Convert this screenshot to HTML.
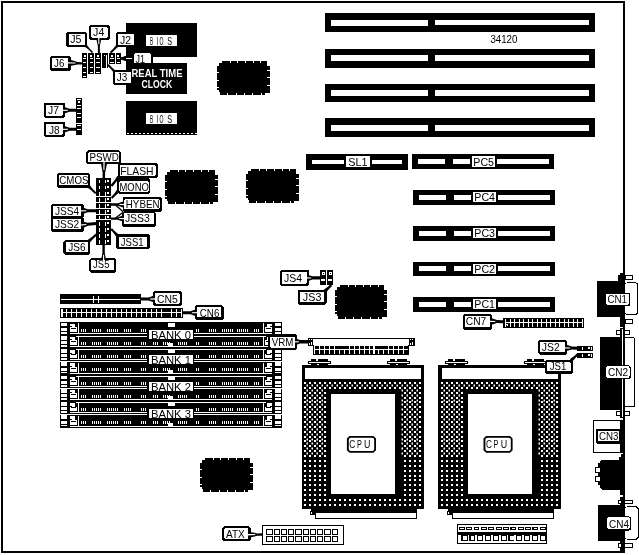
<!DOCTYPE html>
<html><head><meta charset="utf-8"><title>34120</title>
<style>
html,body{margin:0;padding:0;background:#fff;overflow:hidden}
svg{display:block;will-change:transform}
text{font-family:"Liberation Sans",sans-serif;}
</style></head><body>
<svg width="639" height="555" viewBox="0 0 639 555" shape-rendering="crispEdges">
<rect width="639" height="555" fill="#fff"/>
<rect x="1" y="1" width="624" height="552" fill="#000"/>
<rect x="3" y="3" width="620" height="548" fill="#fff"/>
<text x="490.4" y="42.9" font-size="10" textLength="27" lengthAdjust="spacingAndGlyphs">34120</text>
<rect x="325" y="13" width="270" height="19" fill="#000"/>
<rect x="331" y="20" width="96.5" height="6" fill="#fff"/>
<rect x="435" y="20" width="154" height="5" fill="#fff"/>
<rect x="325" y="49" width="270" height="19" fill="#000"/>
<rect x="331" y="55" width="96.5" height="6" fill="#fff"/>
<rect x="435" y="55" width="154" height="6" fill="#fff"/>
<rect x="325" y="83.5" width="270" height="18" fill="#000"/>
<rect x="331" y="90" width="96.5" height="6" fill="#fff"/>
<rect x="435" y="90" width="154" height="6" fill="#fff"/>
<rect x="325" y="118" width="270" height="19" fill="#000"/>
<rect x="331" y="124.5" width="96.5" height="6" fill="#fff"/>
<rect x="435" y="124.5" width="154" height="6" fill="#fff"/>
<rect x="126" y="23" width="71" height="34" fill="#000"/>
<rect x="126" y="57" width="8" height="6" fill="#000"/>
<rect x="146" y="34.5" width="31" height="11.5" fill="#fff"/>
<text x="150" y="44.9" font-size="11" fill="#000" textLength="3.2" lengthAdjust="spacingAndGlyphs">B</text>
<text x="156.6" y="44.9" font-size="11" fill="#000" textLength="1.6" lengthAdjust="spacingAndGlyphs">I</text>
<text x="159.6" y="44.9" font-size="11" fill="#000" textLength="4" lengthAdjust="spacingAndGlyphs">O</text>
<text x="167.2" y="44.9" font-size="11" fill="#000" textLength="4.8" lengthAdjust="spacingAndGlyphs">S</text>
<rect x="126" y="63" width="61" height="31" fill="#000"/>
<text x="131.5" y="77" font-size="10" font-weight="bold" fill="#fff" textLength="51" lengthAdjust="spacingAndGlyphs">REAL TIME</text>
<text x="141.5" y="88" font-size="10" font-weight="bold" fill="#fff" textLength="30.7" lengthAdjust="spacingAndGlyphs">CLOCK</text>
<rect x="126" y="101" width="71" height="34" fill="#000"/>
<rect x="146" y="112.5" width="31" height="11.5" fill="#fff"/>
<text x="150" y="122.9" font-size="11" fill="#000" textLength="3.2" lengthAdjust="spacingAndGlyphs">B</text>
<text x="156.6" y="122.9" font-size="11" fill="#000" textLength="1.6" lengthAdjust="spacingAndGlyphs">I</text>
<text x="159.6" y="122.9" font-size="11" fill="#000" textLength="4" lengthAdjust="spacingAndGlyphs">O</text>
<text x="167.2" y="122.9" font-size="11" fill="#000" textLength="4.8" lengthAdjust="spacingAndGlyphs">S</text>
<line x1="127" y1="133" x2="197" y2="133" stroke="#fff" stroke-width="1" stroke-dasharray="2 2"/>
<polygon points="222.00,61.00 267.00,61.00 267.00,66.00 270.00,66.00 270.00,93.00 265.00,93.00 265.00,95.00 220.00,95.00 220.00,92.00 219.00,92.00 219.00,90.00 217.00,90.00 217.00,66.00 219.00,66.00 219.00,63.00 222.00,63.00" fill="#000"/>
<rect x="229.679" y="61" width="1" height="2" fill="#fff"/>
<rect x="227.333" y="93" width="1" height="2" fill="#fff"/>
<rect x="237.357" y="61" width="1" height="2" fill="#fff"/>
<rect x="235.667" y="93" width="1" height="2" fill="#fff"/>
<rect x="245.036" y="61" width="1" height="2" fill="#fff"/>
<rect x="244" y="93" width="1" height="2" fill="#fff"/>
<rect x="252.714" y="61" width="1" height="2" fill="#fff"/>
<rect x="252.333" y="93" width="1" height="2" fill="#fff"/>
<rect x="260.393" y="61" width="1" height="2" fill="#fff"/>
<rect x="260.667" y="93" width="1" height="2" fill="#fff"/>
<rect x="217" y="71.7778" width="2" height="1" fill="#fff"/>
<rect x="267" y="69.6471" width="3" height="1" fill="#fff"/>
<rect x="217" y="79.5556" width="2" height="1" fill="#fff"/>
<rect x="267" y="77.2941" width="3" height="1" fill="#fff"/>
<rect x="217" y="87.3333" width="2" height="1" fill="#fff"/>
<rect x="267" y="84.9412" width="3" height="1" fill="#fff"/>
<polygon points="170.00,170.00 215.00,170.00 215.00,175.00 218.00,175.00 218.00,202.00 213.00,202.00 213.00,204.00 168.00,204.00 168.00,201.00 167.00,201.00 167.00,199.00 165.00,199.00 165.00,175.00 167.00,175.00 167.00,172.00 170.00,172.00" fill="#000"/>
<rect x="177.679" y="170" width="1" height="2" fill="#fff"/>
<rect x="175.333" y="202" width="1" height="2" fill="#fff"/>
<rect x="185.357" y="170" width="1" height="2" fill="#fff"/>
<rect x="183.667" y="202" width="1" height="2" fill="#fff"/>
<rect x="193.036" y="170" width="1" height="2" fill="#fff"/>
<rect x="192" y="202" width="1" height="2" fill="#fff"/>
<rect x="200.714" y="170" width="1" height="2" fill="#fff"/>
<rect x="200.333" y="202" width="1" height="2" fill="#fff"/>
<rect x="208.393" y="170" width="1" height="2" fill="#fff"/>
<rect x="208.667" y="202" width="1" height="2" fill="#fff"/>
<rect x="165" y="180.778" width="2" height="1" fill="#fff"/>
<rect x="215" y="178.647" width="3" height="1" fill="#fff"/>
<rect x="165" y="188.556" width="2" height="1" fill="#fff"/>
<rect x="215" y="186.294" width="3" height="1" fill="#fff"/>
<rect x="165" y="196.333" width="2" height="1" fill="#fff"/>
<rect x="215" y="193.941" width="3" height="1" fill="#fff"/>
<polygon points="251.00,169.00 296.00,169.00 296.00,174.00 299.00,174.00 299.00,201.00 294.00,201.00 294.00,203.00 249.00,203.00 249.00,200.00 248.00,200.00 248.00,198.00 246.00,198.00 246.00,174.00 248.00,174.00 248.00,171.00 251.00,171.00" fill="#000"/>
<rect x="258.679" y="169" width="1" height="2" fill="#fff"/>
<rect x="256.333" y="201" width="1" height="2" fill="#fff"/>
<rect x="266.357" y="169" width="1" height="2" fill="#fff"/>
<rect x="264.667" y="201" width="1" height="2" fill="#fff"/>
<rect x="274.036" y="169" width="1" height="2" fill="#fff"/>
<rect x="273" y="201" width="1" height="2" fill="#fff"/>
<rect x="281.714" y="169" width="1" height="2" fill="#fff"/>
<rect x="281.333" y="201" width="1" height="2" fill="#fff"/>
<rect x="289.393" y="169" width="1" height="2" fill="#fff"/>
<rect x="289.667" y="201" width="1" height="2" fill="#fff"/>
<rect x="246" y="179.778" width="2" height="1" fill="#fff"/>
<rect x="296" y="177.647" width="3" height="1" fill="#fff"/>
<rect x="246" y="187.556" width="2" height="1" fill="#fff"/>
<rect x="296" y="185.294" width="3" height="1" fill="#fff"/>
<rect x="246" y="195.333" width="2" height="1" fill="#fff"/>
<rect x="296" y="192.941" width="3" height="1" fill="#fff"/>
<polygon points="340.00,285.00 384.00,285.00 384.00,290.00 387.00,290.00 387.00,317.00 382.00,317.00 382.00,319.00 338.00,319.00 338.00,316.00 337.00,316.00 337.00,314.00 335.00,314.00 335.00,290.00 337.00,290.00 337.00,287.00 340.00,287.00" fill="#000"/>
<rect x="347.5" y="285" width="1" height="2" fill="#fff"/>
<rect x="345.148" y="317" width="1" height="2" fill="#fff"/>
<rect x="355" y="285" width="1" height="2" fill="#fff"/>
<rect x="353.296" y="317" width="1" height="2" fill="#fff"/>
<rect x="362.5" y="285" width="1" height="2" fill="#fff"/>
<rect x="361.444" y="317" width="1" height="2" fill="#fff"/>
<rect x="370" y="285" width="1" height="2" fill="#fff"/>
<rect x="369.593" y="317" width="1" height="2" fill="#fff"/>
<rect x="377.5" y="285" width="1" height="2" fill="#fff"/>
<rect x="377.741" y="317" width="1" height="2" fill="#fff"/>
<rect x="335" y="295.778" width="2" height="1" fill="#fff"/>
<rect x="384" y="293.647" width="3" height="1" fill="#fff"/>
<rect x="335" y="303.556" width="2" height="1" fill="#fff"/>
<rect x="384" y="301.294" width="3" height="1" fill="#fff"/>
<rect x="335" y="311.333" width="2" height="1" fill="#fff"/>
<rect x="384" y="308.941" width="3" height="1" fill="#fff"/>
<polygon points="205.00,458.00 250.00,458.00 250.00,463.00 253.00,463.00 253.00,490.00 248.00,490.00 248.00,492.00 203.00,492.00 203.00,489.00 202.00,489.00 202.00,487.00 200.00,487.00 200.00,463.00 202.00,463.00 202.00,460.00 205.00,460.00" fill="#000"/>
<rect x="212.679" y="458" width="1" height="2" fill="#fff"/>
<rect x="210.333" y="490" width="1" height="2" fill="#fff"/>
<rect x="220.357" y="458" width="1" height="2" fill="#fff"/>
<rect x="218.667" y="490" width="1" height="2" fill="#fff"/>
<rect x="228.036" y="458" width="1" height="2" fill="#fff"/>
<rect x="227" y="490" width="1" height="2" fill="#fff"/>
<rect x="235.714" y="458" width="1" height="2" fill="#fff"/>
<rect x="235.333" y="490" width="1" height="2" fill="#fff"/>
<rect x="243.393" y="458" width="1" height="2" fill="#fff"/>
<rect x="243.667" y="490" width="1" height="2" fill="#fff"/>
<rect x="200" y="468.778" width="2" height="1" fill="#fff"/>
<rect x="250" y="466.647" width="3" height="1" fill="#fff"/>
<rect x="200" y="476.556" width="2" height="1" fill="#fff"/>
<rect x="250" y="474.294" width="3" height="1" fill="#fff"/>
<rect x="200" y="484.333" width="2" height="1" fill="#fff"/>
<rect x="250" y="481.941" width="3" height="1" fill="#fff"/>
<rect x="306" y="154" width="102" height="16" fill="#000"/>
<rect x="312" y="160" width="32" height="4" fill="#fff"/>
<rect x="371.5" y="160" width="30.7" height="4" fill="#fff"/>
<rect x="345.8" y="156" width="23.8" height="11.1" fill="#fff"/>
<text x="348.2" y="165.9" font-size="11" fill="#000" textLength="19.3" lengthAdjust="spacingAndGlyphs">SL1</text>
<rect x="412" y="154.3" width="142" height="14.7" fill="#000"/>
<rect x="417.5" y="159.1" width="27.5" height="4.8" fill="#fff"/>
<rect x="452.7" y="159.1" width="17.3" height="4.8" fill="#fff"/>
<rect x="472" y="156.3" width="23.3" height="10.4" fill="#fff"/>
<rect x="497.1" y="159.1" width="51.4" height="4.8" fill="#fff"/>
<text x="473.3" y="165.5" font-size="11" fill="#000" textLength="20.7" lengthAdjust="spacingAndGlyphs">PC5</text>
<rect x="413" y="190" width="142" height="14.7" fill="#000"/>
<rect x="418.5" y="194.8" width="27.5" height="4.8" fill="#fff"/>
<rect x="453.7" y="194.8" width="17.3" height="4.8" fill="#fff"/>
<rect x="473" y="192" width="23.3" height="10.4" fill="#fff"/>
<rect x="498.1" y="194.8" width="51.4" height="4.8" fill="#fff"/>
<text x="474.3" y="201.2" font-size="11" fill="#000" textLength="20.7" lengthAdjust="spacingAndGlyphs">PC4</text>
<rect x="413" y="226" width="142" height="14.7" fill="#000"/>
<rect x="418.5" y="230.8" width="27.5" height="4.8" fill="#fff"/>
<rect x="453.7" y="230.8" width="17.3" height="4.8" fill="#fff"/>
<rect x="473" y="228" width="23.3" height="10.4" fill="#fff"/>
<rect x="498.1" y="230.8" width="51.4" height="4.8" fill="#fff"/>
<text x="474.3" y="237.2" font-size="11" fill="#000" textLength="20.7" lengthAdjust="spacingAndGlyphs">PC3</text>
<rect x="413" y="261.5" width="142" height="14.7" fill="#000"/>
<rect x="418.5" y="266.3" width="27.5" height="4.8" fill="#fff"/>
<rect x="453.7" y="266.3" width="17.3" height="4.8" fill="#fff"/>
<rect x="473" y="263.5" width="23.3" height="10.4" fill="#fff"/>
<rect x="498.1" y="266.3" width="51.4" height="4.8" fill="#fff"/>
<text x="474.3" y="272.7" font-size="11" fill="#000" textLength="20.7" lengthAdjust="spacingAndGlyphs">PC2</text>
<rect x="413" y="297" width="142" height="14.7" fill="#000"/>
<rect x="418.5" y="301.8" width="27.5" height="4.8" fill="#fff"/>
<rect x="453.7" y="301.8" width="17.3" height="4.8" fill="#fff"/>
<rect x="473" y="299" width="23.3" height="10.4" fill="#fff"/>
<rect x="498.1" y="301.8" width="51.4" height="4.8" fill="#fff"/>
<text x="474.3" y="308.2" font-size="11" fill="#000" textLength="20.7" lengthAdjust="spacingAndGlyphs">PC1</text>
<rect x="60" y="294" width="81" height="10" fill="#000"/>
<rect x="61" y="299" width="79" height="1" fill="#fff"/>
<rect x="93" y="295.5" width="1" height="7.5" fill="#fff"/>
<rect x="98" y="295.5" width="1" height="7.5" fill="#fff"/>
<rect x="60" y="308" width="123" height="10" fill="#000"/>
<rect x="61.3" y="309.2" width="1.7" height="7.6" fill="#fff"/>
<rect x="63" y="312.3" width="119" height="1" fill="#fff"/>
<rect x="66" y="309" width="1" height="8" fill="#fff"/>
<rect x="71" y="309" width="1" height="8" fill="#fff"/>
<rect x="76" y="309" width="1" height="8" fill="#fff"/>
<rect x="81" y="309" width="1" height="8" fill="#fff"/>
<rect x="86" y="309" width="1" height="8" fill="#fff"/>
<rect x="91" y="309" width="1" height="8" fill="#fff"/>
<rect x="96" y="309" width="1" height="8" fill="#fff"/>
<rect x="101" y="309" width="1" height="8" fill="#fff"/>
<rect x="106" y="309" width="1" height="8" fill="#fff"/>
<rect x="111" y="309" width="1" height="8" fill="#fff"/>
<rect x="116" y="309" width="1" height="8" fill="#fff"/>
<rect x="121" y="309" width="1" height="8" fill="#fff"/>
<rect x="126" y="309" width="1" height="8" fill="#fff"/>
<rect x="131" y="309" width="1" height="8" fill="#fff"/>
<rect x="136" y="309" width="1" height="8" fill="#fff"/>
<rect x="141" y="309" width="1" height="8" fill="#fff"/>
<rect x="146" y="309" width="1" height="8" fill="#fff"/>
<rect x="151" y="309" width="1" height="8" fill="#fff"/>
<rect x="156" y="309" width="1" height="8" fill="#fff"/>
<rect x="161" y="309" width="1" height="8" fill="#fff"/>
<rect x="171" y="309" width="1" height="8" fill="#fff"/>
<rect x="176" y="309" width="1" height="8" fill="#fff"/>
<rect x="181" y="309" width="1" height="8" fill="#fff"/>
<rect x="60" y="322" width="222" height="13.55" fill="#000"/>
<rect x="61.2" y="322.6" width="5.8" height="3.8" fill="#fff"/>
<rect x="61.2" y="327.8" width="5.8" height="3" fill="#fff"/>
<rect x="61.2" y="331.8" width="5.8" height="1.9" fill="#fff"/>
<rect x="70" y="323.7" width="5.1" height="4.1" fill="#fff"/>
<rect x="70" y="326.1" width="1.6" height="0.9" fill="#000"/>
<rect x="70" y="327" width="7.1" height="4.8" fill="#fff"/>
<rect x="71" y="327.8" width="5" height="1" fill="#000"/>
<rect x="78" y="323.2" width="1" height="10.6" fill="#fff"/>
<rect x="275" y="322.6" width="5.8" height="3.8" fill="#fff"/>
<rect x="275" y="327.8" width="5.8" height="3" fill="#fff"/>
<rect x="275" y="331.8" width="5.8" height="1.9" fill="#fff"/>
<rect x="266.9" y="323.7" width="5.1" height="4.1" fill="#fff"/>
<rect x="270.4" y="326.1" width="1.6" height="0.9" fill="#000"/>
<rect x="264.9" y="327" width="7.1" height="4.8" fill="#fff"/>
<rect x="266" y="327.8" width="5" height="1" fill="#000"/>
<rect x="263" y="323.2" width="1" height="10.6" fill="#fff"/>
<rect x="69.8" y="332.8" width="202.4" height="1" fill="#fff"/>
<rect x="81" y="328.7" width="1" height="3" fill="#fff"/>
<rect x="83" y="328.7" width="1" height="3" fill="#fff"/>
<rect x="85" y="328.7" width="1" height="3" fill="#fff"/>
<rect x="92" y="328.7" width="1" height="3" fill="#fff"/>
<rect x="94" y="328.7" width="1" height="3" fill="#fff"/>
<rect x="96" y="328.7" width="1" height="3" fill="#fff"/>
<rect x="98" y="328.7" width="1" height="3" fill="#fff"/>
<rect x="100" y="328.7" width="1" height="3" fill="#fff"/>
<rect x="107" y="328.7" width="1" height="3" fill="#fff"/>
<rect x="109" y="328.7" width="1" height="3" fill="#fff"/>
<rect x="111" y="328.7" width="1" height="3" fill="#fff"/>
<rect x="113" y="328.7" width="1" height="3" fill="#fff"/>
<rect x="115" y="328.7" width="1" height="3" fill="#fff"/>
<rect x="117" y="328.7" width="1" height="3" fill="#fff"/>
<rect x="124" y="328.7" width="1" height="3" fill="#fff"/>
<rect x="126" y="328.7" width="1" height="3" fill="#fff"/>
<rect x="128" y="328.7" width="1" height="3" fill="#fff"/>
<rect x="130" y="328.7" width="1" height="3" fill="#fff"/>
<rect x="141" y="328.7" width="1" height="3" fill="#fff"/>
<rect x="143" y="328.7" width="1" height="3" fill="#fff"/>
<rect x="145" y="328.7" width="1" height="3" fill="#fff"/>
<rect x="153" y="328.7" width="1" height="3" fill="#fff"/>
<rect x="155" y="328.7" width="1" height="3" fill="#fff"/>
<rect x="157" y="328.7" width="1" height="3" fill="#fff"/>
<rect x="163" y="328.7" width="1" height="3" fill="#fff"/>
<rect x="165" y="328.7" width="1" height="3" fill="#fff"/>
<rect x="167" y="328.7" width="1" height="3" fill="#fff"/>
<rect x="169" y="328.7" width="1" height="3" fill="#fff"/>
<rect x="178" y="328.7" width="1" height="3" fill="#fff"/>
<rect x="180" y="328.7" width="1" height="3" fill="#fff"/>
<rect x="182" y="328.7" width="1" height="3" fill="#fff"/>
<rect x="184" y="328.7" width="1" height="3" fill="#fff"/>
<rect x="186" y="328.7" width="1" height="3" fill="#fff"/>
<rect x="196" y="328.7" width="1" height="3" fill="#fff"/>
<rect x="198" y="328.7" width="1" height="3" fill="#fff"/>
<rect x="209" y="328.7" width="1" height="3" fill="#fff"/>
<rect x="211" y="328.7" width="1" height="3" fill="#fff"/>
<rect x="213" y="328.7" width="1" height="3" fill="#fff"/>
<rect x="215" y="328.7" width="1" height="3" fill="#fff"/>
<rect x="222" y="328.7" width="1" height="3" fill="#fff"/>
<rect x="224" y="328.7" width="1" height="3" fill="#fff"/>
<rect x="226" y="328.7" width="1" height="3" fill="#fff"/>
<rect x="228" y="328.7" width="1" height="3" fill="#fff"/>
<rect x="230" y="328.7" width="1" height="3" fill="#fff"/>
<rect x="232" y="328.7" width="1" height="3" fill="#fff"/>
<rect x="237" y="328.7" width="1" height="3" fill="#fff"/>
<rect x="239" y="328.7" width="1" height="3" fill="#fff"/>
<rect x="241" y="328.7" width="1" height="3" fill="#fff"/>
<rect x="243" y="328.7" width="1" height="3" fill="#fff"/>
<rect x="245" y="328.7" width="1" height="3" fill="#fff"/>
<rect x="247" y="328.7" width="1" height="3" fill="#fff"/>
<rect x="254" y="328.7" width="1" height="3" fill="#fff"/>
<rect x="256" y="328.7" width="1" height="3" fill="#fff"/>
<rect x="258" y="328.7" width="1" height="3" fill="#fff"/>
<rect x="168.2" y="323.2" width="6.6" height="3.4" fill="#fff"/>
<rect x="60" y="335.25" width="222" height="13.55" fill="#000"/>
<rect x="61.2" y="335.85" width="5.8" height="3.8" fill="#fff"/>
<rect x="61.2" y="341.05" width="5.8" height="3" fill="#fff"/>
<rect x="61.2" y="345.05" width="5.8" height="1.9" fill="#fff"/>
<rect x="70" y="336.95" width="5.1" height="4.1" fill="#fff"/>
<rect x="70" y="339.35" width="1.6" height="0.9" fill="#000"/>
<rect x="70" y="340.25" width="7.1" height="4.8" fill="#fff"/>
<rect x="71" y="341.05" width="5" height="1" fill="#000"/>
<rect x="78" y="336.05" width="1" height="11" fill="#fff"/>
<rect x="275" y="335.85" width="5.8" height="3.8" fill="#fff"/>
<rect x="275" y="341.05" width="5.8" height="3" fill="#fff"/>
<rect x="275" y="345.05" width="5.8" height="1.9" fill="#fff"/>
<rect x="266.9" y="336.95" width="5.1" height="4.1" fill="#fff"/>
<rect x="270.4" y="339.35" width="1.6" height="0.9" fill="#000"/>
<rect x="264.9" y="340.25" width="7.1" height="4.8" fill="#fff"/>
<rect x="266" y="341.05" width="5" height="1" fill="#000"/>
<rect x="263" y="336.05" width="1" height="11" fill="#fff"/>
<rect x="69.8" y="346.05" width="202.4" height="1" fill="#fff"/>
<rect x="76" y="336.05" width="190" height="1" fill="#fff"/>
<rect x="81" y="341.95" width="1" height="3" fill="#fff"/>
<rect x="83" y="341.95" width="1" height="3" fill="#fff"/>
<rect x="85" y="341.95" width="1" height="3" fill="#fff"/>
<rect x="92" y="341.95" width="1" height="3" fill="#fff"/>
<rect x="94" y="341.95" width="1" height="3" fill="#fff"/>
<rect x="96" y="341.95" width="1" height="3" fill="#fff"/>
<rect x="98" y="341.95" width="1" height="3" fill="#fff"/>
<rect x="100" y="341.95" width="1" height="3" fill="#fff"/>
<rect x="107" y="341.95" width="1" height="3" fill="#fff"/>
<rect x="109" y="341.95" width="1" height="3" fill="#fff"/>
<rect x="111" y="341.95" width="1" height="3" fill="#fff"/>
<rect x="113" y="341.95" width="1" height="3" fill="#fff"/>
<rect x="115" y="341.95" width="1" height="3" fill="#fff"/>
<rect x="117" y="341.95" width="1" height="3" fill="#fff"/>
<rect x="124" y="341.95" width="1" height="3" fill="#fff"/>
<rect x="126" y="341.95" width="1" height="3" fill="#fff"/>
<rect x="128" y="341.95" width="1" height="3" fill="#fff"/>
<rect x="130" y="341.95" width="1" height="3" fill="#fff"/>
<rect x="141" y="341.95" width="1" height="3" fill="#fff"/>
<rect x="143" y="341.95" width="1" height="3" fill="#fff"/>
<rect x="145" y="341.95" width="1" height="3" fill="#fff"/>
<rect x="153" y="341.95" width="1" height="3" fill="#fff"/>
<rect x="155" y="341.95" width="1" height="3" fill="#fff"/>
<rect x="157" y="341.95" width="1" height="3" fill="#fff"/>
<rect x="163" y="341.95" width="1" height="3" fill="#fff"/>
<rect x="165" y="341.95" width="1" height="3" fill="#fff"/>
<rect x="167" y="341.95" width="1" height="3" fill="#fff"/>
<rect x="169" y="341.95" width="1" height="3" fill="#fff"/>
<rect x="178" y="341.95" width="1" height="3" fill="#fff"/>
<rect x="180" y="341.95" width="1" height="3" fill="#fff"/>
<rect x="182" y="341.95" width="1" height="3" fill="#fff"/>
<rect x="184" y="341.95" width="1" height="3" fill="#fff"/>
<rect x="186" y="341.95" width="1" height="3" fill="#fff"/>
<rect x="196" y="341.95" width="1" height="3" fill="#fff"/>
<rect x="198" y="341.95" width="1" height="3" fill="#fff"/>
<rect x="209" y="341.95" width="1" height="3" fill="#fff"/>
<rect x="211" y="341.95" width="1" height="3" fill="#fff"/>
<rect x="213" y="341.95" width="1" height="3" fill="#fff"/>
<rect x="215" y="341.95" width="1" height="3" fill="#fff"/>
<rect x="222" y="341.95" width="1" height="3" fill="#fff"/>
<rect x="224" y="341.95" width="1" height="3" fill="#fff"/>
<rect x="226" y="341.95" width="1" height="3" fill="#fff"/>
<rect x="228" y="341.95" width="1" height="3" fill="#fff"/>
<rect x="230" y="341.95" width="1" height="3" fill="#fff"/>
<rect x="232" y="341.95" width="1" height="3" fill="#fff"/>
<rect x="237" y="341.95" width="1" height="3" fill="#fff"/>
<rect x="239" y="341.95" width="1" height="3" fill="#fff"/>
<rect x="241" y="341.95" width="1" height="3" fill="#fff"/>
<rect x="243" y="341.95" width="1" height="3" fill="#fff"/>
<rect x="245" y="341.95" width="1" height="3" fill="#fff"/>
<rect x="247" y="341.95" width="1" height="3" fill="#fff"/>
<rect x="254" y="341.95" width="1" height="3" fill="#fff"/>
<rect x="256" y="341.95" width="1" height="3" fill="#fff"/>
<rect x="258" y="341.95" width="1" height="3" fill="#fff"/>
<rect x="168.2" y="343.05" width="5" height="3.2" fill="#fff"/>
<rect x="60" y="348.5" width="222" height="13.55" fill="#000"/>
<rect x="61.2" y="349.1" width="5.8" height="3.8" fill="#fff"/>
<rect x="61.2" y="354.3" width="5.8" height="3" fill="#fff"/>
<rect x="61.2" y="358.3" width="5.8" height="1.9" fill="#fff"/>
<rect x="70" y="350.2" width="5.1" height="4.1" fill="#fff"/>
<rect x="70" y="352.6" width="1.6" height="0.9" fill="#000"/>
<rect x="70" y="353.5" width="7.1" height="4.8" fill="#fff"/>
<rect x="71" y="354.3" width="5" height="1" fill="#000"/>
<rect x="78" y="349.3" width="1" height="11" fill="#fff"/>
<rect x="275" y="349.1" width="5.8" height="3.8" fill="#fff"/>
<rect x="275" y="354.3" width="5.8" height="3" fill="#fff"/>
<rect x="275" y="358.3" width="5.8" height="1.9" fill="#fff"/>
<rect x="266.9" y="350.2" width="5.1" height="4.1" fill="#fff"/>
<rect x="270.4" y="352.6" width="1.6" height="0.9" fill="#000"/>
<rect x="264.9" y="353.5" width="7.1" height="4.8" fill="#fff"/>
<rect x="266" y="354.3" width="5" height="1" fill="#000"/>
<rect x="263" y="349.3" width="1" height="11" fill="#fff"/>
<rect x="69.8" y="359.3" width="202.4" height="1" fill="#fff"/>
<rect x="76" y="349.3" width="190" height="1" fill="#fff"/>
<rect x="81" y="355.2" width="1" height="3" fill="#fff"/>
<rect x="83" y="355.2" width="1" height="3" fill="#fff"/>
<rect x="85" y="355.2" width="1" height="3" fill="#fff"/>
<rect x="92" y="355.2" width="1" height="3" fill="#fff"/>
<rect x="94" y="355.2" width="1" height="3" fill="#fff"/>
<rect x="96" y="355.2" width="1" height="3" fill="#fff"/>
<rect x="98" y="355.2" width="1" height="3" fill="#fff"/>
<rect x="100" y="355.2" width="1" height="3" fill="#fff"/>
<rect x="107" y="355.2" width="1" height="3" fill="#fff"/>
<rect x="109" y="355.2" width="1" height="3" fill="#fff"/>
<rect x="111" y="355.2" width="1" height="3" fill="#fff"/>
<rect x="113" y="355.2" width="1" height="3" fill="#fff"/>
<rect x="115" y="355.2" width="1" height="3" fill="#fff"/>
<rect x="117" y="355.2" width="1" height="3" fill="#fff"/>
<rect x="124" y="355.2" width="1" height="3" fill="#fff"/>
<rect x="126" y="355.2" width="1" height="3" fill="#fff"/>
<rect x="128" y="355.2" width="1" height="3" fill="#fff"/>
<rect x="130" y="355.2" width="1" height="3" fill="#fff"/>
<rect x="141" y="355.2" width="1" height="3" fill="#fff"/>
<rect x="143" y="355.2" width="1" height="3" fill="#fff"/>
<rect x="145" y="355.2" width="1" height="3" fill="#fff"/>
<rect x="153" y="355.2" width="1" height="3" fill="#fff"/>
<rect x="155" y="355.2" width="1" height="3" fill="#fff"/>
<rect x="157" y="355.2" width="1" height="3" fill="#fff"/>
<rect x="163" y="355.2" width="1" height="3" fill="#fff"/>
<rect x="165" y="355.2" width="1" height="3" fill="#fff"/>
<rect x="167" y="355.2" width="1" height="3" fill="#fff"/>
<rect x="169" y="355.2" width="1" height="3" fill="#fff"/>
<rect x="178" y="355.2" width="1" height="3" fill="#fff"/>
<rect x="180" y="355.2" width="1" height="3" fill="#fff"/>
<rect x="182" y="355.2" width="1" height="3" fill="#fff"/>
<rect x="184" y="355.2" width="1" height="3" fill="#fff"/>
<rect x="186" y="355.2" width="1" height="3" fill="#fff"/>
<rect x="196" y="355.2" width="1" height="3" fill="#fff"/>
<rect x="198" y="355.2" width="1" height="3" fill="#fff"/>
<rect x="209" y="355.2" width="1" height="3" fill="#fff"/>
<rect x="211" y="355.2" width="1" height="3" fill="#fff"/>
<rect x="213" y="355.2" width="1" height="3" fill="#fff"/>
<rect x="215" y="355.2" width="1" height="3" fill="#fff"/>
<rect x="222" y="355.2" width="1" height="3" fill="#fff"/>
<rect x="224" y="355.2" width="1" height="3" fill="#fff"/>
<rect x="226" y="355.2" width="1" height="3" fill="#fff"/>
<rect x="228" y="355.2" width="1" height="3" fill="#fff"/>
<rect x="230" y="355.2" width="1" height="3" fill="#fff"/>
<rect x="232" y="355.2" width="1" height="3" fill="#fff"/>
<rect x="237" y="355.2" width="1" height="3" fill="#fff"/>
<rect x="239" y="355.2" width="1" height="3" fill="#fff"/>
<rect x="241" y="355.2" width="1" height="3" fill="#fff"/>
<rect x="243" y="355.2" width="1" height="3" fill="#fff"/>
<rect x="245" y="355.2" width="1" height="3" fill="#fff"/>
<rect x="247" y="355.2" width="1" height="3" fill="#fff"/>
<rect x="254" y="355.2" width="1" height="3" fill="#fff"/>
<rect x="256" y="355.2" width="1" height="3" fill="#fff"/>
<rect x="258" y="355.2" width="1" height="3" fill="#fff"/>
<rect x="168.2" y="349.7" width="6.6" height="3.4" fill="#fff"/>
<rect x="60" y="361.75" width="222" height="13.55" fill="#000"/>
<rect x="61.2" y="362.35" width="5.8" height="3.8" fill="#fff"/>
<rect x="61.2" y="367.55" width="5.8" height="3" fill="#fff"/>
<rect x="61.2" y="371.55" width="5.8" height="1.9" fill="#fff"/>
<rect x="70" y="363.45" width="5.1" height="4.1" fill="#fff"/>
<rect x="70" y="365.85" width="1.6" height="0.9" fill="#000"/>
<rect x="70" y="366.75" width="7.1" height="4.8" fill="#fff"/>
<rect x="71" y="367.55" width="5" height="1" fill="#000"/>
<rect x="78" y="362.55" width="1" height="11" fill="#fff"/>
<rect x="275" y="362.35" width="5.8" height="3.8" fill="#fff"/>
<rect x="275" y="367.55" width="5.8" height="3" fill="#fff"/>
<rect x="275" y="371.55" width="5.8" height="1.9" fill="#fff"/>
<rect x="266.9" y="363.45" width="5.1" height="4.1" fill="#fff"/>
<rect x="270.4" y="365.85" width="1.6" height="0.9" fill="#000"/>
<rect x="264.9" y="366.75" width="7.1" height="4.8" fill="#fff"/>
<rect x="266" y="367.55" width="5" height="1" fill="#000"/>
<rect x="263" y="362.55" width="1" height="11" fill="#fff"/>
<rect x="69.8" y="372.55" width="202.4" height="1" fill="#fff"/>
<rect x="60" y="361.35" width="222" height="1" fill="#fff"/>
<rect x="81" y="368.45" width="1" height="3" fill="#fff"/>
<rect x="83" y="368.45" width="1" height="3" fill="#fff"/>
<rect x="85" y="368.45" width="1" height="3" fill="#fff"/>
<rect x="92" y="368.45" width="1" height="3" fill="#fff"/>
<rect x="94" y="368.45" width="1" height="3" fill="#fff"/>
<rect x="96" y="368.45" width="1" height="3" fill="#fff"/>
<rect x="98" y="368.45" width="1" height="3" fill="#fff"/>
<rect x="100" y="368.45" width="1" height="3" fill="#fff"/>
<rect x="107" y="368.45" width="1" height="3" fill="#fff"/>
<rect x="109" y="368.45" width="1" height="3" fill="#fff"/>
<rect x="111" y="368.45" width="1" height="3" fill="#fff"/>
<rect x="113" y="368.45" width="1" height="3" fill="#fff"/>
<rect x="115" y="368.45" width="1" height="3" fill="#fff"/>
<rect x="117" y="368.45" width="1" height="3" fill="#fff"/>
<rect x="124" y="368.45" width="1" height="3" fill="#fff"/>
<rect x="126" y="368.45" width="1" height="3" fill="#fff"/>
<rect x="128" y="368.45" width="1" height="3" fill="#fff"/>
<rect x="130" y="368.45" width="1" height="3" fill="#fff"/>
<rect x="141" y="368.45" width="1" height="3" fill="#fff"/>
<rect x="143" y="368.45" width="1" height="3" fill="#fff"/>
<rect x="145" y="368.45" width="1" height="3" fill="#fff"/>
<rect x="153" y="368.45" width="1" height="3" fill="#fff"/>
<rect x="155" y="368.45" width="1" height="3" fill="#fff"/>
<rect x="157" y="368.45" width="1" height="3" fill="#fff"/>
<rect x="163" y="368.45" width="1" height="3" fill="#fff"/>
<rect x="165" y="368.45" width="1" height="3" fill="#fff"/>
<rect x="167" y="368.45" width="1" height="3" fill="#fff"/>
<rect x="169" y="368.45" width="1" height="3" fill="#fff"/>
<rect x="178" y="368.45" width="1" height="3" fill="#fff"/>
<rect x="180" y="368.45" width="1" height="3" fill="#fff"/>
<rect x="182" y="368.45" width="1" height="3" fill="#fff"/>
<rect x="184" y="368.45" width="1" height="3" fill="#fff"/>
<rect x="186" y="368.45" width="1" height="3" fill="#fff"/>
<rect x="196" y="368.45" width="1" height="3" fill="#fff"/>
<rect x="198" y="368.45" width="1" height="3" fill="#fff"/>
<rect x="209" y="368.45" width="1" height="3" fill="#fff"/>
<rect x="211" y="368.45" width="1" height="3" fill="#fff"/>
<rect x="213" y="368.45" width="1" height="3" fill="#fff"/>
<rect x="215" y="368.45" width="1" height="3" fill="#fff"/>
<rect x="222" y="368.45" width="1" height="3" fill="#fff"/>
<rect x="224" y="368.45" width="1" height="3" fill="#fff"/>
<rect x="226" y="368.45" width="1" height="3" fill="#fff"/>
<rect x="228" y="368.45" width="1" height="3" fill="#fff"/>
<rect x="230" y="368.45" width="1" height="3" fill="#fff"/>
<rect x="232" y="368.45" width="1" height="3" fill="#fff"/>
<rect x="237" y="368.45" width="1" height="3" fill="#fff"/>
<rect x="239" y="368.45" width="1" height="3" fill="#fff"/>
<rect x="241" y="368.45" width="1" height="3" fill="#fff"/>
<rect x="243" y="368.45" width="1" height="3" fill="#fff"/>
<rect x="245" y="368.45" width="1" height="3" fill="#fff"/>
<rect x="247" y="368.45" width="1" height="3" fill="#fff"/>
<rect x="254" y="368.45" width="1" height="3" fill="#fff"/>
<rect x="256" y="368.45" width="1" height="3" fill="#fff"/>
<rect x="258" y="368.45" width="1" height="3" fill="#fff"/>
<rect x="168.2" y="369.55" width="5" height="3.2" fill="#fff"/>
<rect x="60" y="375" width="222" height="13.55" fill="#000"/>
<rect x="61.2" y="375.6" width="5.8" height="3.8" fill="#fff"/>
<rect x="61.2" y="380.8" width="5.8" height="3" fill="#fff"/>
<rect x="61.2" y="384.8" width="5.8" height="1.9" fill="#fff"/>
<rect x="70" y="376.7" width="5.1" height="4.1" fill="#fff"/>
<rect x="70" y="379.1" width="1.6" height="0.9" fill="#000"/>
<rect x="70" y="380" width="7.1" height="4.8" fill="#fff"/>
<rect x="71" y="380.8" width="5" height="1" fill="#000"/>
<rect x="78" y="375.8" width="1" height="11" fill="#fff"/>
<rect x="275" y="375.6" width="5.8" height="3.8" fill="#fff"/>
<rect x="275" y="380.8" width="5.8" height="3" fill="#fff"/>
<rect x="275" y="384.8" width="5.8" height="1.9" fill="#fff"/>
<rect x="266.9" y="376.7" width="5.1" height="4.1" fill="#fff"/>
<rect x="270.4" y="379.1" width="1.6" height="0.9" fill="#000"/>
<rect x="264.9" y="380" width="7.1" height="4.8" fill="#fff"/>
<rect x="266" y="380.8" width="5" height="1" fill="#000"/>
<rect x="263" y="375.8" width="1" height="11" fill="#fff"/>
<rect x="69.8" y="385.8" width="202.4" height="1" fill="#fff"/>
<rect x="76" y="375.8" width="190" height="1" fill="#fff"/>
<rect x="81" y="381.7" width="1" height="3" fill="#fff"/>
<rect x="83" y="381.7" width="1" height="3" fill="#fff"/>
<rect x="85" y="381.7" width="1" height="3" fill="#fff"/>
<rect x="92" y="381.7" width="1" height="3" fill="#fff"/>
<rect x="94" y="381.7" width="1" height="3" fill="#fff"/>
<rect x="96" y="381.7" width="1" height="3" fill="#fff"/>
<rect x="98" y="381.7" width="1" height="3" fill="#fff"/>
<rect x="100" y="381.7" width="1" height="3" fill="#fff"/>
<rect x="107" y="381.7" width="1" height="3" fill="#fff"/>
<rect x="109" y="381.7" width="1" height="3" fill="#fff"/>
<rect x="111" y="381.7" width="1" height="3" fill="#fff"/>
<rect x="113" y="381.7" width="1" height="3" fill="#fff"/>
<rect x="115" y="381.7" width="1" height="3" fill="#fff"/>
<rect x="117" y="381.7" width="1" height="3" fill="#fff"/>
<rect x="124" y="381.7" width="1" height="3" fill="#fff"/>
<rect x="126" y="381.7" width="1" height="3" fill="#fff"/>
<rect x="128" y="381.7" width="1" height="3" fill="#fff"/>
<rect x="130" y="381.7" width="1" height="3" fill="#fff"/>
<rect x="141" y="381.7" width="1" height="3" fill="#fff"/>
<rect x="143" y="381.7" width="1" height="3" fill="#fff"/>
<rect x="145" y="381.7" width="1" height="3" fill="#fff"/>
<rect x="153" y="381.7" width="1" height="3" fill="#fff"/>
<rect x="155" y="381.7" width="1" height="3" fill="#fff"/>
<rect x="157" y="381.7" width="1" height="3" fill="#fff"/>
<rect x="163" y="381.7" width="1" height="3" fill="#fff"/>
<rect x="165" y="381.7" width="1" height="3" fill="#fff"/>
<rect x="167" y="381.7" width="1" height="3" fill="#fff"/>
<rect x="169" y="381.7" width="1" height="3" fill="#fff"/>
<rect x="178" y="381.7" width="1" height="3" fill="#fff"/>
<rect x="180" y="381.7" width="1" height="3" fill="#fff"/>
<rect x="182" y="381.7" width="1" height="3" fill="#fff"/>
<rect x="184" y="381.7" width="1" height="3" fill="#fff"/>
<rect x="186" y="381.7" width="1" height="3" fill="#fff"/>
<rect x="196" y="381.7" width="1" height="3" fill="#fff"/>
<rect x="198" y="381.7" width="1" height="3" fill="#fff"/>
<rect x="209" y="381.7" width="1" height="3" fill="#fff"/>
<rect x="211" y="381.7" width="1" height="3" fill="#fff"/>
<rect x="213" y="381.7" width="1" height="3" fill="#fff"/>
<rect x="215" y="381.7" width="1" height="3" fill="#fff"/>
<rect x="222" y="381.7" width="1" height="3" fill="#fff"/>
<rect x="224" y="381.7" width="1" height="3" fill="#fff"/>
<rect x="226" y="381.7" width="1" height="3" fill="#fff"/>
<rect x="228" y="381.7" width="1" height="3" fill="#fff"/>
<rect x="230" y="381.7" width="1" height="3" fill="#fff"/>
<rect x="232" y="381.7" width="1" height="3" fill="#fff"/>
<rect x="237" y="381.7" width="1" height="3" fill="#fff"/>
<rect x="239" y="381.7" width="1" height="3" fill="#fff"/>
<rect x="241" y="381.7" width="1" height="3" fill="#fff"/>
<rect x="243" y="381.7" width="1" height="3" fill="#fff"/>
<rect x="245" y="381.7" width="1" height="3" fill="#fff"/>
<rect x="247" y="381.7" width="1" height="3" fill="#fff"/>
<rect x="254" y="381.7" width="1" height="3" fill="#fff"/>
<rect x="256" y="381.7" width="1" height="3" fill="#fff"/>
<rect x="258" y="381.7" width="1" height="3" fill="#fff"/>
<rect x="168.2" y="376.2" width="6.6" height="3.4" fill="#fff"/>
<rect x="60" y="388.25" width="222" height="13.55" fill="#000"/>
<rect x="61.2" y="388.85" width="5.8" height="3.8" fill="#fff"/>
<rect x="61.2" y="394.05" width="5.8" height="3" fill="#fff"/>
<rect x="61.2" y="398.05" width="5.8" height="1.9" fill="#fff"/>
<rect x="70" y="389.95" width="5.1" height="4.1" fill="#fff"/>
<rect x="70" y="392.35" width="1.6" height="0.9" fill="#000"/>
<rect x="70" y="393.25" width="7.1" height="4.8" fill="#fff"/>
<rect x="71" y="394.05" width="5" height="1" fill="#000"/>
<rect x="78" y="389.05" width="1" height="11" fill="#fff"/>
<rect x="275" y="388.85" width="5.8" height="3.8" fill="#fff"/>
<rect x="275" y="394.05" width="5.8" height="3" fill="#fff"/>
<rect x="275" y="398.05" width="5.8" height="1.9" fill="#fff"/>
<rect x="266.9" y="389.95" width="5.1" height="4.1" fill="#fff"/>
<rect x="270.4" y="392.35" width="1.6" height="0.9" fill="#000"/>
<rect x="264.9" y="393.25" width="7.1" height="4.8" fill="#fff"/>
<rect x="266" y="394.05" width="5" height="1" fill="#000"/>
<rect x="263" y="389.05" width="1" height="11" fill="#fff"/>
<rect x="69.8" y="399.05" width="202.4" height="1" fill="#fff"/>
<rect x="60" y="387.85" width="222" height="1" fill="#fff"/>
<rect x="81" y="394.95" width="1" height="3" fill="#fff"/>
<rect x="83" y="394.95" width="1" height="3" fill="#fff"/>
<rect x="85" y="394.95" width="1" height="3" fill="#fff"/>
<rect x="92" y="394.95" width="1" height="3" fill="#fff"/>
<rect x="94" y="394.95" width="1" height="3" fill="#fff"/>
<rect x="96" y="394.95" width="1" height="3" fill="#fff"/>
<rect x="98" y="394.95" width="1" height="3" fill="#fff"/>
<rect x="100" y="394.95" width="1" height="3" fill="#fff"/>
<rect x="107" y="394.95" width="1" height="3" fill="#fff"/>
<rect x="109" y="394.95" width="1" height="3" fill="#fff"/>
<rect x="111" y="394.95" width="1" height="3" fill="#fff"/>
<rect x="113" y="394.95" width="1" height="3" fill="#fff"/>
<rect x="115" y="394.95" width="1" height="3" fill="#fff"/>
<rect x="117" y="394.95" width="1" height="3" fill="#fff"/>
<rect x="124" y="394.95" width="1" height="3" fill="#fff"/>
<rect x="126" y="394.95" width="1" height="3" fill="#fff"/>
<rect x="128" y="394.95" width="1" height="3" fill="#fff"/>
<rect x="130" y="394.95" width="1" height="3" fill="#fff"/>
<rect x="141" y="394.95" width="1" height="3" fill="#fff"/>
<rect x="143" y="394.95" width="1" height="3" fill="#fff"/>
<rect x="145" y="394.95" width="1" height="3" fill="#fff"/>
<rect x="153" y="394.95" width="1" height="3" fill="#fff"/>
<rect x="155" y="394.95" width="1" height="3" fill="#fff"/>
<rect x="157" y="394.95" width="1" height="3" fill="#fff"/>
<rect x="163" y="394.95" width="1" height="3" fill="#fff"/>
<rect x="165" y="394.95" width="1" height="3" fill="#fff"/>
<rect x="167" y="394.95" width="1" height="3" fill="#fff"/>
<rect x="169" y="394.95" width="1" height="3" fill="#fff"/>
<rect x="178" y="394.95" width="1" height="3" fill="#fff"/>
<rect x="180" y="394.95" width="1" height="3" fill="#fff"/>
<rect x="182" y="394.95" width="1" height="3" fill="#fff"/>
<rect x="184" y="394.95" width="1" height="3" fill="#fff"/>
<rect x="186" y="394.95" width="1" height="3" fill="#fff"/>
<rect x="196" y="394.95" width="1" height="3" fill="#fff"/>
<rect x="198" y="394.95" width="1" height="3" fill="#fff"/>
<rect x="209" y="394.95" width="1" height="3" fill="#fff"/>
<rect x="211" y="394.95" width="1" height="3" fill="#fff"/>
<rect x="213" y="394.95" width="1" height="3" fill="#fff"/>
<rect x="215" y="394.95" width="1" height="3" fill="#fff"/>
<rect x="222" y="394.95" width="1" height="3" fill="#fff"/>
<rect x="224" y="394.95" width="1" height="3" fill="#fff"/>
<rect x="226" y="394.95" width="1" height="3" fill="#fff"/>
<rect x="228" y="394.95" width="1" height="3" fill="#fff"/>
<rect x="230" y="394.95" width="1" height="3" fill="#fff"/>
<rect x="232" y="394.95" width="1" height="3" fill="#fff"/>
<rect x="237" y="394.95" width="1" height="3" fill="#fff"/>
<rect x="239" y="394.95" width="1" height="3" fill="#fff"/>
<rect x="241" y="394.95" width="1" height="3" fill="#fff"/>
<rect x="243" y="394.95" width="1" height="3" fill="#fff"/>
<rect x="245" y="394.95" width="1" height="3" fill="#fff"/>
<rect x="247" y="394.95" width="1" height="3" fill="#fff"/>
<rect x="254" y="394.95" width="1" height="3" fill="#fff"/>
<rect x="256" y="394.95" width="1" height="3" fill="#fff"/>
<rect x="258" y="394.95" width="1" height="3" fill="#fff"/>
<rect x="168.2" y="396.05" width="5" height="3.2" fill="#fff"/>
<rect x="60" y="401.5" width="222" height="13.55" fill="#000"/>
<rect x="61.2" y="402.1" width="5.8" height="3.8" fill="#fff"/>
<rect x="61.2" y="407.3" width="5.8" height="3" fill="#fff"/>
<rect x="61.2" y="411.3" width="5.8" height="1.9" fill="#fff"/>
<rect x="70" y="403.2" width="5.1" height="4.1" fill="#fff"/>
<rect x="70" y="405.6" width="1.6" height="0.9" fill="#000"/>
<rect x="70" y="406.5" width="7.1" height="4.8" fill="#fff"/>
<rect x="71" y="407.3" width="5" height="1" fill="#000"/>
<rect x="78" y="402.3" width="1" height="11" fill="#fff"/>
<rect x="275" y="402.1" width="5.8" height="3.8" fill="#fff"/>
<rect x="275" y="407.3" width="5.8" height="3" fill="#fff"/>
<rect x="275" y="411.3" width="5.8" height="1.9" fill="#fff"/>
<rect x="266.9" y="403.2" width="5.1" height="4.1" fill="#fff"/>
<rect x="270.4" y="405.6" width="1.6" height="0.9" fill="#000"/>
<rect x="264.9" y="406.5" width="7.1" height="4.8" fill="#fff"/>
<rect x="266" y="407.3" width="5" height="1" fill="#000"/>
<rect x="263" y="402.3" width="1" height="11" fill="#fff"/>
<rect x="69.8" y="412.3" width="202.4" height="1" fill="#fff"/>
<rect x="76" y="402.3" width="190" height="1" fill="#fff"/>
<rect x="81" y="408.2" width="1" height="3" fill="#fff"/>
<rect x="83" y="408.2" width="1" height="3" fill="#fff"/>
<rect x="85" y="408.2" width="1" height="3" fill="#fff"/>
<rect x="92" y="408.2" width="1" height="3" fill="#fff"/>
<rect x="94" y="408.2" width="1" height="3" fill="#fff"/>
<rect x="96" y="408.2" width="1" height="3" fill="#fff"/>
<rect x="98" y="408.2" width="1" height="3" fill="#fff"/>
<rect x="100" y="408.2" width="1" height="3" fill="#fff"/>
<rect x="107" y="408.2" width="1" height="3" fill="#fff"/>
<rect x="109" y="408.2" width="1" height="3" fill="#fff"/>
<rect x="111" y="408.2" width="1" height="3" fill="#fff"/>
<rect x="113" y="408.2" width="1" height="3" fill="#fff"/>
<rect x="115" y="408.2" width="1" height="3" fill="#fff"/>
<rect x="117" y="408.2" width="1" height="3" fill="#fff"/>
<rect x="124" y="408.2" width="1" height="3" fill="#fff"/>
<rect x="126" y="408.2" width="1" height="3" fill="#fff"/>
<rect x="128" y="408.2" width="1" height="3" fill="#fff"/>
<rect x="130" y="408.2" width="1" height="3" fill="#fff"/>
<rect x="141" y="408.2" width="1" height="3" fill="#fff"/>
<rect x="143" y="408.2" width="1" height="3" fill="#fff"/>
<rect x="145" y="408.2" width="1" height="3" fill="#fff"/>
<rect x="153" y="408.2" width="1" height="3" fill="#fff"/>
<rect x="155" y="408.2" width="1" height="3" fill="#fff"/>
<rect x="157" y="408.2" width="1" height="3" fill="#fff"/>
<rect x="163" y="408.2" width="1" height="3" fill="#fff"/>
<rect x="165" y="408.2" width="1" height="3" fill="#fff"/>
<rect x="167" y="408.2" width="1" height="3" fill="#fff"/>
<rect x="169" y="408.2" width="1" height="3" fill="#fff"/>
<rect x="178" y="408.2" width="1" height="3" fill="#fff"/>
<rect x="180" y="408.2" width="1" height="3" fill="#fff"/>
<rect x="182" y="408.2" width="1" height="3" fill="#fff"/>
<rect x="184" y="408.2" width="1" height="3" fill="#fff"/>
<rect x="186" y="408.2" width="1" height="3" fill="#fff"/>
<rect x="196" y="408.2" width="1" height="3" fill="#fff"/>
<rect x="198" y="408.2" width="1" height="3" fill="#fff"/>
<rect x="209" y="408.2" width="1" height="3" fill="#fff"/>
<rect x="211" y="408.2" width="1" height="3" fill="#fff"/>
<rect x="213" y="408.2" width="1" height="3" fill="#fff"/>
<rect x="215" y="408.2" width="1" height="3" fill="#fff"/>
<rect x="222" y="408.2" width="1" height="3" fill="#fff"/>
<rect x="224" y="408.2" width="1" height="3" fill="#fff"/>
<rect x="226" y="408.2" width="1" height="3" fill="#fff"/>
<rect x="228" y="408.2" width="1" height="3" fill="#fff"/>
<rect x="230" y="408.2" width="1" height="3" fill="#fff"/>
<rect x="232" y="408.2" width="1" height="3" fill="#fff"/>
<rect x="237" y="408.2" width="1" height="3" fill="#fff"/>
<rect x="239" y="408.2" width="1" height="3" fill="#fff"/>
<rect x="241" y="408.2" width="1" height="3" fill="#fff"/>
<rect x="243" y="408.2" width="1" height="3" fill="#fff"/>
<rect x="245" y="408.2" width="1" height="3" fill="#fff"/>
<rect x="247" y="408.2" width="1" height="3" fill="#fff"/>
<rect x="254" y="408.2" width="1" height="3" fill="#fff"/>
<rect x="256" y="408.2" width="1" height="3" fill="#fff"/>
<rect x="258" y="408.2" width="1" height="3" fill="#fff"/>
<rect x="168.2" y="402.7" width="6.6" height="3.4" fill="#fff"/>
<rect x="60" y="414.75" width="222" height="13.55" fill="#000"/>
<rect x="61.2" y="415.35" width="5.8" height="3.8" fill="#fff"/>
<rect x="61.2" y="420.55" width="5.8" height="3" fill="#fff"/>
<rect x="61.2" y="424.55" width="5.8" height="1.9" fill="#fff"/>
<rect x="70" y="416.45" width="5.1" height="4.1" fill="#fff"/>
<rect x="70" y="418.85" width="1.6" height="0.9" fill="#000"/>
<rect x="70" y="419.75" width="7.1" height="4.8" fill="#fff"/>
<rect x="71" y="420.55" width="5" height="1" fill="#000"/>
<rect x="78" y="415.55" width="1" height="11" fill="#fff"/>
<rect x="275" y="415.35" width="5.8" height="3.8" fill="#fff"/>
<rect x="275" y="420.55" width="5.8" height="3" fill="#fff"/>
<rect x="275" y="424.55" width="5.8" height="1.9" fill="#fff"/>
<rect x="266.9" y="416.45" width="5.1" height="4.1" fill="#fff"/>
<rect x="270.4" y="418.85" width="1.6" height="0.9" fill="#000"/>
<rect x="264.9" y="419.75" width="7.1" height="4.8" fill="#fff"/>
<rect x="266" y="420.55" width="5" height="1" fill="#000"/>
<rect x="263" y="415.55" width="1" height="11" fill="#fff"/>
<rect x="69.8" y="425.55" width="202.4" height="1" fill="#fff"/>
<rect x="60" y="414.35" width="222" height="1" fill="#fff"/>
<rect x="81" y="421.45" width="1" height="3" fill="#fff"/>
<rect x="83" y="421.45" width="1" height="3" fill="#fff"/>
<rect x="85" y="421.45" width="1" height="3" fill="#fff"/>
<rect x="92" y="421.45" width="1" height="3" fill="#fff"/>
<rect x="94" y="421.45" width="1" height="3" fill="#fff"/>
<rect x="96" y="421.45" width="1" height="3" fill="#fff"/>
<rect x="98" y="421.45" width="1" height="3" fill="#fff"/>
<rect x="100" y="421.45" width="1" height="3" fill="#fff"/>
<rect x="107" y="421.45" width="1" height="3" fill="#fff"/>
<rect x="109" y="421.45" width="1" height="3" fill="#fff"/>
<rect x="111" y="421.45" width="1" height="3" fill="#fff"/>
<rect x="113" y="421.45" width="1" height="3" fill="#fff"/>
<rect x="115" y="421.45" width="1" height="3" fill="#fff"/>
<rect x="117" y="421.45" width="1" height="3" fill="#fff"/>
<rect x="124" y="421.45" width="1" height="3" fill="#fff"/>
<rect x="126" y="421.45" width="1" height="3" fill="#fff"/>
<rect x="128" y="421.45" width="1" height="3" fill="#fff"/>
<rect x="130" y="421.45" width="1" height="3" fill="#fff"/>
<rect x="141" y="421.45" width="1" height="3" fill="#fff"/>
<rect x="143" y="421.45" width="1" height="3" fill="#fff"/>
<rect x="145" y="421.45" width="1" height="3" fill="#fff"/>
<rect x="153" y="421.45" width="1" height="3" fill="#fff"/>
<rect x="155" y="421.45" width="1" height="3" fill="#fff"/>
<rect x="157" y="421.45" width="1" height="3" fill="#fff"/>
<rect x="163" y="421.45" width="1" height="3" fill="#fff"/>
<rect x="165" y="421.45" width="1" height="3" fill="#fff"/>
<rect x="167" y="421.45" width="1" height="3" fill="#fff"/>
<rect x="169" y="421.45" width="1" height="3" fill="#fff"/>
<rect x="178" y="421.45" width="1" height="3" fill="#fff"/>
<rect x="180" y="421.45" width="1" height="3" fill="#fff"/>
<rect x="182" y="421.45" width="1" height="3" fill="#fff"/>
<rect x="184" y="421.45" width="1" height="3" fill="#fff"/>
<rect x="186" y="421.45" width="1" height="3" fill="#fff"/>
<rect x="196" y="421.45" width="1" height="3" fill="#fff"/>
<rect x="198" y="421.45" width="1" height="3" fill="#fff"/>
<rect x="209" y="421.45" width="1" height="3" fill="#fff"/>
<rect x="211" y="421.45" width="1" height="3" fill="#fff"/>
<rect x="213" y="421.45" width="1" height="3" fill="#fff"/>
<rect x="215" y="421.45" width="1" height="3" fill="#fff"/>
<rect x="222" y="421.45" width="1" height="3" fill="#fff"/>
<rect x="224" y="421.45" width="1" height="3" fill="#fff"/>
<rect x="226" y="421.45" width="1" height="3" fill="#fff"/>
<rect x="228" y="421.45" width="1" height="3" fill="#fff"/>
<rect x="230" y="421.45" width="1" height="3" fill="#fff"/>
<rect x="232" y="421.45" width="1" height="3" fill="#fff"/>
<rect x="237" y="421.45" width="1" height="3" fill="#fff"/>
<rect x="239" y="421.45" width="1" height="3" fill="#fff"/>
<rect x="241" y="421.45" width="1" height="3" fill="#fff"/>
<rect x="243" y="421.45" width="1" height="3" fill="#fff"/>
<rect x="245" y="421.45" width="1" height="3" fill="#fff"/>
<rect x="247" y="421.45" width="1" height="3" fill="#fff"/>
<rect x="254" y="421.45" width="1" height="3" fill="#fff"/>
<rect x="256" y="421.45" width="1" height="3" fill="#fff"/>
<rect x="258" y="421.45" width="1" height="3" fill="#fff"/>
<rect x="168.2" y="422.55" width="5" height="3.2" fill="#fff"/>
<rect x="147.3" y="329" width="46.3" height="11.6" fill="#000"/>
<rect x="149.4" y="329.9" width="43.3" height="8.8" fill="#fff"/>
<text x="151" y="338.5" font-size="11" fill="#000" textLength="40" lengthAdjust="spacingAndGlyphs">BANK 0</text>
<rect x="147.3" y="354.5" width="46.3" height="11.6" fill="#000"/>
<rect x="149.4" y="355.4" width="43.3" height="8.8" fill="#fff"/>
<text x="151" y="364" font-size="11" fill="#000" textLength="40" lengthAdjust="spacingAndGlyphs">BANK 1</text>
<rect x="147.3" y="381.5" width="46.3" height="11.6" fill="#000"/>
<rect x="149.4" y="382.4" width="43.3" height="8.8" fill="#fff"/>
<text x="151" y="391" font-size="11" fill="#000" textLength="40" lengthAdjust="spacingAndGlyphs">BANK 2</text>
<rect x="147.3" y="408" width="46.3" height="11.6" fill="#000"/>
<rect x="149.4" y="408.9" width="43.3" height="8.8" fill="#fff"/>
<text x="151" y="417.5" font-size="11" fill="#000" textLength="40" lengthAdjust="spacingAndGlyphs">BANK 3</text>
<rect x="302" y="365" width="122" height="143.5" fill="#000"/>
<rect x="305" y="368" width="116" height="10.7" fill="#fff"/>
<path fill="#fff" d="M304 382h2v2h-2zM309 382h2v2h-2zM314 382h2v2h-2zM319 382h2v2h-2zM324 382h2v2h-2zM329 382h2v2h-2zM334 382h2v2h-2zM339 382h2v2h-2zM344 382h2v2h-2zM349 382h2v2h-2zM354 382h2v2h-2zM359 382h2v2h-2zM364 382h2v2h-2zM369 382h2v2h-2zM374 382h2v2h-2zM379 382h2v2h-2zM384 382h2v2h-2zM389 382h2v2h-2zM394 382h2v2h-2zM399 382h2v2h-2zM404 382h2v2h-2zM409 382h2v2h-2zM414 382h2v2h-2zM419 382h2v2h-2zM304 387h2v2h-2zM309 387h2v2h-2zM314 387h2v2h-2zM319 387h2v2h-2zM324 387h2v2h-2zM329 387h2v2h-2zM334 387h2v2h-2zM339 387h2v2h-2zM344 387h2v2h-2zM349 387h2v2h-2zM354 387h2v2h-2zM359 387h2v2h-2zM364 387h2v2h-2zM369 387h2v2h-2zM374 387h2v2h-2zM379 387h2v2h-2zM384 387h2v2h-2zM389 387h2v2h-2zM394 387h2v2h-2zM399 387h2v2h-2zM404 387h2v2h-2zM409 387h2v2h-2zM414 387h2v2h-2zM419 387h2v2h-2zM304 392h2v2h-2zM309 392h2v2h-2zM314 392h2v2h-2zM319 392h2v2h-2zM324 392h2v2h-2zM404 392h2v2h-2zM409 392h2v2h-2zM414 392h2v2h-2zM419 392h2v2h-2zM304 397h2v2h-2zM309 397h2v2h-2zM314 397h2v2h-2zM319 397h2v2h-2zM324 397h2v2h-2zM404 397h2v2h-2zM409 397h2v2h-2zM414 397h2v2h-2zM419 397h2v2h-2zM304 401h2v2h-2zM309 401h2v2h-2zM314 401h2v2h-2zM319 401h2v2h-2zM324 401h2v2h-2zM404 401h2v2h-2zM409 401h2v2h-2zM414 401h2v2h-2zM419 401h2v2h-2zM304 406h2v2h-2zM309 406h2v2h-2zM314 406h2v2h-2zM319 406h2v2h-2zM324 406h2v2h-2zM404 406h2v2h-2zM409 406h2v2h-2zM414 406h2v2h-2zM419 406h2v2h-2zM304 411h2v2h-2zM309 411h2v2h-2zM314 411h2v2h-2zM319 411h2v2h-2zM324 411h2v2h-2zM404 411h2v2h-2zM409 411h2v2h-2zM414 411h2v2h-2zM419 411h2v2h-2zM304 416h2v2h-2zM309 416h2v2h-2zM314 416h2v2h-2zM319 416h2v2h-2zM324 416h2v2h-2zM404 416h2v2h-2zM409 416h2v2h-2zM414 416h2v2h-2zM419 416h2v2h-2zM304 421h2v2h-2zM309 421h2v2h-2zM314 421h2v2h-2zM319 421h2v2h-2zM324 421h2v2h-2zM404 421h2v2h-2zM409 421h2v2h-2zM414 421h2v2h-2zM419 421h2v2h-2zM304 426h2v2h-2zM309 426h2v2h-2zM314 426h2v2h-2zM319 426h2v2h-2zM324 426h2v2h-2zM404 426h2v2h-2zM409 426h2v2h-2zM414 426h2v2h-2zM419 426h2v2h-2zM304 431h2v2h-2zM309 431h2v2h-2zM314 431h2v2h-2zM319 431h2v2h-2zM324 431h2v2h-2zM404 431h2v2h-2zM409 431h2v2h-2zM414 431h2v2h-2zM419 431h2v2h-2zM304 436h2v2h-2zM309 436h2v2h-2zM314 436h2v2h-2zM319 436h2v2h-2zM324 436h2v2h-2zM404 436h2v2h-2zM409 436h2v2h-2zM414 436h2v2h-2zM419 436h2v2h-2zM304 440h2v2h-2zM309 440h2v2h-2zM314 440h2v2h-2zM319 440h2v2h-2zM324 440h2v2h-2zM404 440h2v2h-2zM409 440h2v2h-2zM414 440h2v2h-2zM419 440h2v2h-2zM304 445h2v2h-2zM309 445h2v2h-2zM314 445h2v2h-2zM319 445h2v2h-2zM324 445h2v2h-2zM404 445h2v2h-2zM409 445h2v2h-2zM414 445h2v2h-2zM419 445h2v2h-2zM304 450h2v2h-2zM309 450h2v2h-2zM314 450h2v2h-2zM319 450h2v2h-2zM324 450h2v2h-2zM404 450h2v2h-2zM409 450h2v2h-2zM414 450h2v2h-2zM419 450h2v2h-2zM304 455h2v2h-2zM309 455h2v2h-2zM314 455h2v2h-2zM319 455h2v2h-2zM324 455h2v2h-2zM404 455h2v2h-2zM409 455h2v2h-2zM414 455h2v2h-2zM419 455h2v2h-2zM304 460h2v2h-2zM309 460h2v2h-2zM314 460h2v2h-2zM319 460h2v2h-2zM324 460h2v2h-2zM404 460h2v2h-2zM409 460h2v2h-2zM414 460h2v2h-2zM419 460h2v2h-2zM304 465h2v2h-2zM309 465h2v2h-2zM314 465h2v2h-2zM319 465h2v2h-2zM324 465h2v2h-2zM404 465h2v2h-2zM409 465h2v2h-2zM414 465h2v2h-2zM419 465h2v2h-2zM304 470h2v2h-2zM309 470h2v2h-2zM314 470h2v2h-2zM319 470h2v2h-2zM324 470h2v2h-2zM404 470h2v2h-2zM409 470h2v2h-2zM414 470h2v2h-2zM419 470h2v2h-2zM304 475h2v2h-2zM309 475h2v2h-2zM314 475h2v2h-2zM319 475h2v2h-2zM324 475h2v2h-2zM404 475h2v2h-2zM409 475h2v2h-2zM414 475h2v2h-2zM419 475h2v2h-2zM304 479h2v2h-2zM309 479h2v2h-2zM314 479h2v2h-2zM319 479h2v2h-2zM324 479h2v2h-2zM404 479h2v2h-2zM409 479h2v2h-2zM414 479h2v2h-2zM419 479h2v2h-2zM304 484h2v2h-2zM309 484h2v2h-2zM314 484h2v2h-2zM319 484h2v2h-2zM324 484h2v2h-2zM404 484h2v2h-2zM409 484h2v2h-2zM414 484h2v2h-2zM419 484h2v2h-2zM304 489h2v2h-2zM309 489h2v2h-2zM314 489h2v2h-2zM319 489h2v2h-2zM324 489h2v2h-2zM404 489h2v2h-2zM409 489h2v2h-2zM414 489h2v2h-2zM419 489h2v2h-2zM304 494h2v2h-2zM309 494h2v2h-2zM314 494h2v2h-2zM319 494h2v2h-2zM324 494h2v2h-2zM404 494h2v2h-2zM409 494h2v2h-2zM414 494h2v2h-2zM419 494h2v2h-2zM304 499h2v2h-2zM309 499h2v2h-2zM314 499h2v2h-2zM319 499h2v2h-2zM324 499h2v2h-2zM329 499h2v2h-2zM334 499h2v2h-2zM339 499h2v2h-2zM344 499h2v2h-2zM349 499h2v2h-2zM354 499h2v2h-2zM359 499h2v2h-2zM364 499h2v2h-2zM369 499h2v2h-2zM374 499h2v2h-2zM379 499h2v2h-2zM384 499h2v2h-2zM389 499h2v2h-2zM394 499h2v2h-2zM399 499h2v2h-2zM404 499h2v2h-2zM409 499h2v2h-2zM414 499h2v2h-2zM419 499h2v2h-2zM304 504h2v2h-2zM309 504h2v2h-2zM314 504h2v2h-2zM319 504h2v2h-2zM324 504h2v2h-2zM329 504h2v2h-2zM334 504h2v2h-2zM339 504h2v2h-2zM344 504h2v2h-2zM349 504h2v2h-2zM354 504h2v2h-2zM359 504h2v2h-2zM364 504h2v2h-2zM369 504h2v2h-2zM374 504h2v2h-2zM379 504h2v2h-2zM384 504h2v2h-2zM389 504h2v2h-2zM394 504h2v2h-2zM399 504h2v2h-2zM404 504h2v2h-2zM409 504h2v2h-2zM414 504h2v2h-2zM419 504h2v2h-2z"/>
<path fill="#fff" shape-rendering="geometricPrecision" d="M306.5 384.55h1.5v1.9h-1.5zM311.5 384.55h1.5v1.9h-1.5zM316.5 384.55h1.5v1.9h-1.5zM321.5 384.55h1.5v1.9h-1.5zM326.5 384.55h1.5v1.9h-1.5zM331.5 384.55h1.5v1.9h-1.5zM336.5 384.55h1.5v1.9h-1.5zM341.5 384.55h1.5v1.9h-1.5zM346.5 384.55h1.5v1.9h-1.5zM351.5 384.55h1.5v1.9h-1.5zM356.5 384.55h1.5v1.9h-1.5zM361.5 384.55h1.5v1.9h-1.5zM366.5 384.55h1.5v1.9h-1.5zM371.5 384.55h1.5v1.9h-1.5zM376.5 384.55h1.5v1.9h-1.5zM381.5 384.55h1.5v1.9h-1.5zM386.5 384.55h1.5v1.9h-1.5zM391.5 384.55h1.5v1.9h-1.5zM396.5 384.55h1.5v1.9h-1.5zM401.5 384.55h1.5v1.9h-1.5zM406.5 384.55h1.5v1.9h-1.5zM411.5 384.55h1.5v1.9h-1.5zM416.5 384.55h1.5v1.9h-1.5zM306.5 389.55h1.5v1.9h-1.5zM311.5 389.55h1.5v1.9h-1.5zM316.5 389.55h1.5v1.9h-1.5zM321.5 389.55h1.5v1.9h-1.5zM401.5 389.55h1.5v1.9h-1.5zM406.5 389.55h1.5v1.9h-1.5zM411.5 389.55h1.5v1.9h-1.5zM416.5 389.55h1.5v1.9h-1.5zM306.5 394.55h1.5v1.9h-1.5zM311.5 394.55h1.5v1.9h-1.5zM316.5 394.55h1.5v1.9h-1.5zM321.5 394.55h1.5v1.9h-1.5zM401.5 394.55h1.5v1.9h-1.5zM406.5 394.55h1.5v1.9h-1.5zM411.5 394.55h1.5v1.9h-1.5zM416.5 394.55h1.5v1.9h-1.5zM306.5 399.55h1.5v1.9h-1.5zM311.5 399.55h1.5v1.9h-1.5zM316.5 399.55h1.5v1.9h-1.5zM321.5 399.55h1.5v1.9h-1.5zM401.5 399.55h1.5v1.9h-1.5zM406.5 399.55h1.5v1.9h-1.5zM411.5 399.55h1.5v1.9h-1.5zM416.5 399.55h1.5v1.9h-1.5zM306.5 403.55h1.5v1.9h-1.5zM311.5 403.55h1.5v1.9h-1.5zM316.5 403.55h1.5v1.9h-1.5zM321.5 403.55h1.5v1.9h-1.5zM401.5 403.55h1.5v1.9h-1.5zM406.5 403.55h1.5v1.9h-1.5zM411.5 403.55h1.5v1.9h-1.5zM416.5 403.55h1.5v1.9h-1.5zM306.5 408.55h1.5v1.9h-1.5zM311.5 408.55h1.5v1.9h-1.5zM316.5 408.55h1.5v1.9h-1.5zM321.5 408.55h1.5v1.9h-1.5zM401.5 408.55h1.5v1.9h-1.5zM406.5 408.55h1.5v1.9h-1.5zM411.5 408.55h1.5v1.9h-1.5zM416.5 408.55h1.5v1.9h-1.5zM306.5 413.55h1.5v1.9h-1.5zM311.5 413.55h1.5v1.9h-1.5zM316.5 413.55h1.5v1.9h-1.5zM321.5 413.55h1.5v1.9h-1.5zM401.5 413.55h1.5v1.9h-1.5zM406.5 413.55h1.5v1.9h-1.5zM411.5 413.55h1.5v1.9h-1.5zM416.5 413.55h1.5v1.9h-1.5zM306.5 418.55h1.5v1.9h-1.5zM311.5 418.55h1.5v1.9h-1.5zM316.5 418.55h1.5v1.9h-1.5zM321.5 418.55h1.5v1.9h-1.5zM401.5 418.55h1.5v1.9h-1.5zM406.5 418.55h1.5v1.9h-1.5zM411.5 418.55h1.5v1.9h-1.5zM416.5 418.55h1.5v1.9h-1.5zM306.5 423.55h1.5v1.9h-1.5zM311.5 423.55h1.5v1.9h-1.5zM316.5 423.55h1.5v1.9h-1.5zM321.5 423.55h1.5v1.9h-1.5zM401.5 423.55h1.5v1.9h-1.5zM406.5 423.55h1.5v1.9h-1.5zM411.5 423.55h1.5v1.9h-1.5zM416.5 423.55h1.5v1.9h-1.5zM306.5 428.55h1.5v1.9h-1.5zM311.5 428.55h1.5v1.9h-1.5zM316.5 428.55h1.5v1.9h-1.5zM321.5 428.55h1.5v1.9h-1.5zM401.5 428.55h1.5v1.9h-1.5zM406.5 428.55h1.5v1.9h-1.5zM411.5 428.55h1.5v1.9h-1.5zM416.5 428.55h1.5v1.9h-1.5zM306.5 433.55h1.5v1.9h-1.5zM311.5 433.55h1.5v1.9h-1.5zM316.5 433.55h1.5v1.9h-1.5zM321.5 433.55h1.5v1.9h-1.5zM401.5 433.55h1.5v1.9h-1.5zM406.5 433.55h1.5v1.9h-1.5zM411.5 433.55h1.5v1.9h-1.5zM416.5 433.55h1.5v1.9h-1.5zM306.5 438.55h1.5v1.9h-1.5zM311.5 438.55h1.5v1.9h-1.5zM316.5 438.55h1.5v1.9h-1.5zM321.5 438.55h1.5v1.9h-1.5zM401.5 438.55h1.5v1.9h-1.5zM406.5 438.55h1.5v1.9h-1.5zM411.5 438.55h1.5v1.9h-1.5zM416.5 438.55h1.5v1.9h-1.5zM306.5 442.55h1.5v1.9h-1.5zM311.5 442.55h1.5v1.9h-1.5zM316.5 442.55h1.5v1.9h-1.5zM321.5 442.55h1.5v1.9h-1.5zM401.5 442.55h1.5v1.9h-1.5zM406.5 442.55h1.5v1.9h-1.5zM411.5 442.55h1.5v1.9h-1.5zM416.5 442.55h1.5v1.9h-1.5zM306.5 447.55h1.5v1.9h-1.5zM311.5 447.55h1.5v1.9h-1.5zM316.5 447.55h1.5v1.9h-1.5zM321.5 447.55h1.5v1.9h-1.5zM401.5 447.55h1.5v1.9h-1.5zM406.5 447.55h1.5v1.9h-1.5zM411.5 447.55h1.5v1.9h-1.5zM416.5 447.55h1.5v1.9h-1.5zM306.5 452.55h1.5v1.9h-1.5zM311.5 452.55h1.5v1.9h-1.5zM316.5 452.55h1.5v1.9h-1.5zM321.5 452.55h1.5v1.9h-1.5zM401.5 452.55h1.5v1.9h-1.5zM406.5 452.55h1.5v1.9h-1.5zM411.5 452.55h1.5v1.9h-1.5zM416.5 452.55h1.5v1.9h-1.5z"/>
<rect x="326" y="389.3" width="73.8" height="107.7" fill="#000"/>
<rect x="331" y="394" width="64" height="100" fill="#fff"/>
<rect x="311" y="359" width="5" height="2.2" fill="#000"/>
<rect x="318" y="359" width="10" height="2.2" fill="#000"/>
<rect x="308" y="360.9" width="23" height="3.3" fill="#000" rx="1"/>
<rect x="309" y="362" width="21" height="1" fill="#fff"/>
<rect x="311" y="363.8" width="17" height="1.6" fill="#000"/>
<rect x="316.5" y="364" width="2" height="1" fill="#fff"/>
<rect x="390" y="359" width="5" height="2.2" fill="#000"/>
<rect x="397" y="359" width="10" height="2.2" fill="#000"/>
<rect x="387" y="360.9" width="23" height="3.3" fill="#000" rx="1"/>
<rect x="388" y="362" width="21" height="1" fill="#fff"/>
<rect x="390" y="363.8" width="17" height="1.6" fill="#000"/>
<rect x="395.5" y="364" width="2" height="1" fill="#fff"/>
<rect x="311.2" y="508" width="105.4" height="4" fill="#000"/>
<rect x="314.5" y="511.5" width="102.1" height="7.2" fill="#000"/>
<rect x="315.5" y="512.5" width="100.1" height="5.2" fill="#fff"/>
<rect x="309.8" y="511" width="5.2" height="3.5" fill="#000"/>
<rect x="310.8" y="512.1" width="1.4" height="1.4" fill="#fff"/>
<rect x="438" y="365" width="123" height="143.5" fill="#000"/>
<rect x="442" y="368" width="116" height="10.7" fill="#fff"/>
<path fill="#fff" d="M441 382h2v2h-2zM446 382h2v2h-2zM451 382h2v2h-2zM456 382h2v2h-2zM461 382h2v2h-2zM466 382h2v2h-2zM471 382h2v2h-2zM476 382h2v2h-2zM481 382h2v2h-2zM486 382h2v2h-2zM491 382h2v2h-2zM496 382h2v2h-2zM501 382h2v2h-2zM506 382h2v2h-2zM511 382h2v2h-2zM516 382h2v2h-2zM521 382h2v2h-2zM526 382h2v2h-2zM531 382h2v2h-2zM536 382h2v2h-2zM541 382h2v2h-2zM546 382h2v2h-2zM551 382h2v2h-2zM556 382h2v2h-2zM441 387h2v2h-2zM446 387h2v2h-2zM451 387h2v2h-2zM456 387h2v2h-2zM461 387h2v2h-2zM466 387h2v2h-2zM471 387h2v2h-2zM476 387h2v2h-2zM481 387h2v2h-2zM486 387h2v2h-2zM491 387h2v2h-2zM496 387h2v2h-2zM501 387h2v2h-2zM506 387h2v2h-2zM511 387h2v2h-2zM516 387h2v2h-2zM521 387h2v2h-2zM526 387h2v2h-2zM531 387h2v2h-2zM536 387h2v2h-2zM541 387h2v2h-2zM546 387h2v2h-2zM551 387h2v2h-2zM556 387h2v2h-2zM441 392h2v2h-2zM446 392h2v2h-2zM451 392h2v2h-2zM456 392h2v2h-2zM461 392h2v2h-2zM541 392h2v2h-2zM546 392h2v2h-2zM551 392h2v2h-2zM556 392h2v2h-2zM441 397h2v2h-2zM446 397h2v2h-2zM451 397h2v2h-2zM456 397h2v2h-2zM461 397h2v2h-2zM541 397h2v2h-2zM546 397h2v2h-2zM551 397h2v2h-2zM556 397h2v2h-2zM441 401h2v2h-2zM446 401h2v2h-2zM451 401h2v2h-2zM456 401h2v2h-2zM461 401h2v2h-2zM541 401h2v2h-2zM546 401h2v2h-2zM551 401h2v2h-2zM556 401h2v2h-2zM441 406h2v2h-2zM446 406h2v2h-2zM451 406h2v2h-2zM456 406h2v2h-2zM461 406h2v2h-2zM541 406h2v2h-2zM546 406h2v2h-2zM551 406h2v2h-2zM556 406h2v2h-2zM441 411h2v2h-2zM446 411h2v2h-2zM451 411h2v2h-2zM456 411h2v2h-2zM461 411h2v2h-2zM541 411h2v2h-2zM546 411h2v2h-2zM551 411h2v2h-2zM556 411h2v2h-2zM441 416h2v2h-2zM446 416h2v2h-2zM451 416h2v2h-2zM456 416h2v2h-2zM461 416h2v2h-2zM541 416h2v2h-2zM546 416h2v2h-2zM551 416h2v2h-2zM556 416h2v2h-2zM441 421h2v2h-2zM446 421h2v2h-2zM451 421h2v2h-2zM456 421h2v2h-2zM461 421h2v2h-2zM541 421h2v2h-2zM546 421h2v2h-2zM551 421h2v2h-2zM556 421h2v2h-2zM441 426h2v2h-2zM446 426h2v2h-2zM451 426h2v2h-2zM456 426h2v2h-2zM461 426h2v2h-2zM541 426h2v2h-2zM546 426h2v2h-2zM551 426h2v2h-2zM556 426h2v2h-2zM441 431h2v2h-2zM446 431h2v2h-2zM451 431h2v2h-2zM456 431h2v2h-2zM461 431h2v2h-2zM541 431h2v2h-2zM546 431h2v2h-2zM551 431h2v2h-2zM556 431h2v2h-2zM441 436h2v2h-2zM446 436h2v2h-2zM451 436h2v2h-2zM456 436h2v2h-2zM461 436h2v2h-2zM541 436h2v2h-2zM546 436h2v2h-2zM551 436h2v2h-2zM556 436h2v2h-2zM441 440h2v2h-2zM446 440h2v2h-2zM451 440h2v2h-2zM456 440h2v2h-2zM461 440h2v2h-2zM541 440h2v2h-2zM546 440h2v2h-2zM551 440h2v2h-2zM556 440h2v2h-2zM441 445h2v2h-2zM446 445h2v2h-2zM451 445h2v2h-2zM456 445h2v2h-2zM461 445h2v2h-2zM541 445h2v2h-2zM546 445h2v2h-2zM551 445h2v2h-2zM556 445h2v2h-2zM441 450h2v2h-2zM446 450h2v2h-2zM451 450h2v2h-2zM456 450h2v2h-2zM461 450h2v2h-2zM541 450h2v2h-2zM546 450h2v2h-2zM551 450h2v2h-2zM556 450h2v2h-2zM441 455h2v2h-2zM446 455h2v2h-2zM451 455h2v2h-2zM456 455h2v2h-2zM461 455h2v2h-2zM541 455h2v2h-2zM546 455h2v2h-2zM551 455h2v2h-2zM556 455h2v2h-2zM441 460h2v2h-2zM446 460h2v2h-2zM451 460h2v2h-2zM456 460h2v2h-2zM461 460h2v2h-2zM541 460h2v2h-2zM546 460h2v2h-2zM551 460h2v2h-2zM556 460h2v2h-2zM441 465h2v2h-2zM446 465h2v2h-2zM451 465h2v2h-2zM456 465h2v2h-2zM461 465h2v2h-2zM541 465h2v2h-2zM546 465h2v2h-2zM551 465h2v2h-2zM556 465h2v2h-2zM441 470h2v2h-2zM446 470h2v2h-2zM451 470h2v2h-2zM456 470h2v2h-2zM461 470h2v2h-2zM541 470h2v2h-2zM546 470h2v2h-2zM551 470h2v2h-2zM556 470h2v2h-2zM441 475h2v2h-2zM446 475h2v2h-2zM451 475h2v2h-2zM456 475h2v2h-2zM461 475h2v2h-2zM541 475h2v2h-2zM546 475h2v2h-2zM551 475h2v2h-2zM556 475h2v2h-2zM441 479h2v2h-2zM446 479h2v2h-2zM451 479h2v2h-2zM456 479h2v2h-2zM461 479h2v2h-2zM541 479h2v2h-2zM546 479h2v2h-2zM551 479h2v2h-2zM556 479h2v2h-2zM441 484h2v2h-2zM446 484h2v2h-2zM451 484h2v2h-2zM456 484h2v2h-2zM461 484h2v2h-2zM541 484h2v2h-2zM546 484h2v2h-2zM551 484h2v2h-2zM556 484h2v2h-2zM441 489h2v2h-2zM446 489h2v2h-2zM451 489h2v2h-2zM456 489h2v2h-2zM461 489h2v2h-2zM541 489h2v2h-2zM546 489h2v2h-2zM551 489h2v2h-2zM556 489h2v2h-2zM441 494h2v2h-2zM446 494h2v2h-2zM451 494h2v2h-2zM456 494h2v2h-2zM461 494h2v2h-2zM541 494h2v2h-2zM546 494h2v2h-2zM551 494h2v2h-2zM556 494h2v2h-2zM441 499h2v2h-2zM446 499h2v2h-2zM451 499h2v2h-2zM456 499h2v2h-2zM461 499h2v2h-2zM466 499h2v2h-2zM471 499h2v2h-2zM476 499h2v2h-2zM481 499h2v2h-2zM486 499h2v2h-2zM491 499h2v2h-2zM496 499h2v2h-2zM501 499h2v2h-2zM506 499h2v2h-2zM511 499h2v2h-2zM516 499h2v2h-2zM521 499h2v2h-2zM526 499h2v2h-2zM531 499h2v2h-2zM536 499h2v2h-2zM541 499h2v2h-2zM546 499h2v2h-2zM551 499h2v2h-2zM556 499h2v2h-2zM441 504h2v2h-2zM446 504h2v2h-2zM451 504h2v2h-2zM456 504h2v2h-2zM461 504h2v2h-2zM466 504h2v2h-2zM471 504h2v2h-2zM476 504h2v2h-2zM481 504h2v2h-2zM486 504h2v2h-2zM491 504h2v2h-2zM496 504h2v2h-2zM501 504h2v2h-2zM506 504h2v2h-2zM511 504h2v2h-2zM516 504h2v2h-2zM521 504h2v2h-2zM526 504h2v2h-2zM531 504h2v2h-2zM536 504h2v2h-2zM541 504h2v2h-2zM546 504h2v2h-2zM551 504h2v2h-2zM556 504h2v2h-2z"/>
<path fill="#fff" shape-rendering="geometricPrecision" d="M443.5 384.55h1.5v1.9h-1.5zM448.5 384.55h1.5v1.9h-1.5zM453.5 384.55h1.5v1.9h-1.5zM458.5 384.55h1.5v1.9h-1.5zM463.5 384.55h1.5v1.9h-1.5zM468.5 384.55h1.5v1.9h-1.5zM473.5 384.55h1.5v1.9h-1.5zM478.5 384.55h1.5v1.9h-1.5zM483.5 384.55h1.5v1.9h-1.5zM488.5 384.55h1.5v1.9h-1.5zM493.5 384.55h1.5v1.9h-1.5zM498.5 384.55h1.5v1.9h-1.5zM503.5 384.55h1.5v1.9h-1.5zM508.5 384.55h1.5v1.9h-1.5zM513.5 384.55h1.5v1.9h-1.5zM518.5 384.55h1.5v1.9h-1.5zM523.5 384.55h1.5v1.9h-1.5zM528.5 384.55h1.5v1.9h-1.5zM533.5 384.55h1.5v1.9h-1.5zM538.5 384.55h1.5v1.9h-1.5zM543.5 384.55h1.5v1.9h-1.5zM548.5 384.55h1.5v1.9h-1.5zM553.5 384.55h1.5v1.9h-1.5zM443.5 389.55h1.5v1.9h-1.5zM448.5 389.55h1.5v1.9h-1.5zM453.5 389.55h1.5v1.9h-1.5zM458.5 389.55h1.5v1.9h-1.5zM538.5 389.55h1.5v1.9h-1.5zM543.5 389.55h1.5v1.9h-1.5zM548.5 389.55h1.5v1.9h-1.5zM553.5 389.55h1.5v1.9h-1.5zM443.5 394.55h1.5v1.9h-1.5zM448.5 394.55h1.5v1.9h-1.5zM453.5 394.55h1.5v1.9h-1.5zM458.5 394.55h1.5v1.9h-1.5zM538.5 394.55h1.5v1.9h-1.5zM543.5 394.55h1.5v1.9h-1.5zM548.5 394.55h1.5v1.9h-1.5zM553.5 394.55h1.5v1.9h-1.5zM443.5 399.55h1.5v1.9h-1.5zM448.5 399.55h1.5v1.9h-1.5zM453.5 399.55h1.5v1.9h-1.5zM458.5 399.55h1.5v1.9h-1.5zM538.5 399.55h1.5v1.9h-1.5zM543.5 399.55h1.5v1.9h-1.5zM548.5 399.55h1.5v1.9h-1.5zM553.5 399.55h1.5v1.9h-1.5zM443.5 403.55h1.5v1.9h-1.5zM448.5 403.55h1.5v1.9h-1.5zM453.5 403.55h1.5v1.9h-1.5zM458.5 403.55h1.5v1.9h-1.5zM538.5 403.55h1.5v1.9h-1.5zM543.5 403.55h1.5v1.9h-1.5zM548.5 403.55h1.5v1.9h-1.5zM553.5 403.55h1.5v1.9h-1.5zM443.5 408.55h1.5v1.9h-1.5zM448.5 408.55h1.5v1.9h-1.5zM453.5 408.55h1.5v1.9h-1.5zM458.5 408.55h1.5v1.9h-1.5zM538.5 408.55h1.5v1.9h-1.5zM543.5 408.55h1.5v1.9h-1.5zM548.5 408.55h1.5v1.9h-1.5zM553.5 408.55h1.5v1.9h-1.5zM443.5 413.55h1.5v1.9h-1.5zM448.5 413.55h1.5v1.9h-1.5zM453.5 413.55h1.5v1.9h-1.5zM458.5 413.55h1.5v1.9h-1.5zM538.5 413.55h1.5v1.9h-1.5zM543.5 413.55h1.5v1.9h-1.5zM548.5 413.55h1.5v1.9h-1.5zM553.5 413.55h1.5v1.9h-1.5zM443.5 418.55h1.5v1.9h-1.5zM448.5 418.55h1.5v1.9h-1.5zM453.5 418.55h1.5v1.9h-1.5zM458.5 418.55h1.5v1.9h-1.5zM538.5 418.55h1.5v1.9h-1.5zM543.5 418.55h1.5v1.9h-1.5zM548.5 418.55h1.5v1.9h-1.5zM553.5 418.55h1.5v1.9h-1.5zM443.5 423.55h1.5v1.9h-1.5zM448.5 423.55h1.5v1.9h-1.5zM453.5 423.55h1.5v1.9h-1.5zM458.5 423.55h1.5v1.9h-1.5zM538.5 423.55h1.5v1.9h-1.5zM543.5 423.55h1.5v1.9h-1.5zM548.5 423.55h1.5v1.9h-1.5zM553.5 423.55h1.5v1.9h-1.5zM443.5 428.55h1.5v1.9h-1.5zM448.5 428.55h1.5v1.9h-1.5zM453.5 428.55h1.5v1.9h-1.5zM458.5 428.55h1.5v1.9h-1.5zM538.5 428.55h1.5v1.9h-1.5zM543.5 428.55h1.5v1.9h-1.5zM548.5 428.55h1.5v1.9h-1.5zM553.5 428.55h1.5v1.9h-1.5zM443.5 433.55h1.5v1.9h-1.5zM448.5 433.55h1.5v1.9h-1.5zM453.5 433.55h1.5v1.9h-1.5zM458.5 433.55h1.5v1.9h-1.5zM538.5 433.55h1.5v1.9h-1.5zM543.5 433.55h1.5v1.9h-1.5zM548.5 433.55h1.5v1.9h-1.5zM553.5 433.55h1.5v1.9h-1.5zM443.5 438.55h1.5v1.9h-1.5zM448.5 438.55h1.5v1.9h-1.5zM453.5 438.55h1.5v1.9h-1.5zM458.5 438.55h1.5v1.9h-1.5zM538.5 438.55h1.5v1.9h-1.5zM543.5 438.55h1.5v1.9h-1.5zM548.5 438.55h1.5v1.9h-1.5zM553.5 438.55h1.5v1.9h-1.5zM443.5 442.55h1.5v1.9h-1.5zM448.5 442.55h1.5v1.9h-1.5zM453.5 442.55h1.5v1.9h-1.5zM458.5 442.55h1.5v1.9h-1.5zM538.5 442.55h1.5v1.9h-1.5zM543.5 442.55h1.5v1.9h-1.5zM548.5 442.55h1.5v1.9h-1.5zM553.5 442.55h1.5v1.9h-1.5zM443.5 447.55h1.5v1.9h-1.5zM448.5 447.55h1.5v1.9h-1.5zM453.5 447.55h1.5v1.9h-1.5zM458.5 447.55h1.5v1.9h-1.5zM538.5 447.55h1.5v1.9h-1.5zM543.5 447.55h1.5v1.9h-1.5zM548.5 447.55h1.5v1.9h-1.5zM553.5 447.55h1.5v1.9h-1.5zM443.5 452.55h1.5v1.9h-1.5zM448.5 452.55h1.5v1.9h-1.5zM453.5 452.55h1.5v1.9h-1.5zM458.5 452.55h1.5v1.9h-1.5zM538.5 452.55h1.5v1.9h-1.5zM543.5 452.55h1.5v1.9h-1.5zM548.5 452.55h1.5v1.9h-1.5zM553.5 452.55h1.5v1.9h-1.5z"/>
<rect x="463" y="389.3" width="73.8" height="107.7" fill="#000"/>
<rect x="468" y="394" width="64" height="100" fill="#fff"/>
<rect x="448" y="359" width="5" height="2.2" fill="#000"/>
<rect x="455" y="359" width="10" height="2.2" fill="#000"/>
<rect x="445" y="360.9" width="23" height="3.3" fill="#000" rx="1"/>
<rect x="446" y="362" width="21" height="1" fill="#fff"/>
<rect x="448" y="363.8" width="17" height="1.6" fill="#000"/>
<rect x="453.5" y="364" width="2" height="1" fill="#fff"/>
<rect x="527" y="359" width="5" height="2.2" fill="#000"/>
<rect x="534" y="359" width="10" height="2.2" fill="#000"/>
<rect x="524" y="360.9" width="23" height="3.3" fill="#000" rx="1"/>
<rect x="525" y="362" width="21" height="1" fill="#fff"/>
<rect x="527" y="363.8" width="17" height="1.6" fill="#000"/>
<rect x="532.5" y="364" width="2" height="1" fill="#fff"/>
<rect x="448.2" y="508" width="105.4" height="4" fill="#000"/>
<rect x="451.5" y="511.5" width="102.1" height="7.2" fill="#000"/>
<rect x="452.5" y="512.5" width="100.1" height="5.2" fill="#fff"/>
<rect x="446.8" y="511" width="5.2" height="3.5" fill="#000"/>
<rect x="447.8" y="512.1" width="1.4" height="1.4" fill="#fff"/>
<polygon points="349.50,435.90 373.40,435.90 376.00,438.50 376.00,450.20 373.40,452.80 349.50,452.80 346.90,450.20 346.90,438.50" fill="#000" shape-rendering="geometricPrecision"/>
<rect x="348.8" y="437.7" width="25.4" height="13.3" rx="2" fill="#fff" shape-rendering="geometricPrecision"/>
<text x="349.3" y="447.9" font-size="11" fill="#000" textLength="5.9" lengthAdjust="spacingAndGlyphs">C</text>
<text x="357" y="447.9" font-size="11" fill="#000" textLength="4.9" lengthAdjust="spacingAndGlyphs">P</text>
<text x="364.1" y="447.9" font-size="11" fill="#000" textLength="6.4" lengthAdjust="spacingAndGlyphs">U</text>
<polygon points="486.10,435.90 510.00,435.90 512.60,438.50 512.60,450.20 510.00,452.80 486.10,452.80 483.50,450.20 483.50,438.50" fill="#000" shape-rendering="geometricPrecision"/>
<rect x="485.4" y="437.7" width="25.4" height="13.3" rx="2" fill="#fff" shape-rendering="geometricPrecision"/>
<text x="485.9" y="447.9" font-size="11" fill="#000" textLength="5.9" lengthAdjust="spacingAndGlyphs">C</text>
<text x="493.6" y="447.9" font-size="11" fill="#000" textLength="4.9" lengthAdjust="spacingAndGlyphs">P</text>
<text x="500.7" y="447.9" font-size="11" fill="#000" textLength="6.4" lengthAdjust="spacingAndGlyphs">U</text>
<rect x="308" y="338" width="106.5" height="8" fill="#000"/>
<rect x="313.2" y="339" width="95.8" height="6.2" fill="#fff"/>
<rect x="309" y="339" width="1" height="1" fill="#fff"/>
<rect x="311" y="339" width="1" height="1" fill="#fff"/>
<rect x="309" y="343" width="1" height="2" fill="#fff"/>
<rect x="311" y="342" width="1" height="3" fill="#fff"/>
<rect x="410" y="339" width="1" height="1" fill="#fff"/>
<rect x="412" y="339" width="1" height="1" fill="#fff"/>
<rect x="410" y="343" width="1" height="2" fill="#fff"/>
<rect x="412" y="342" width="1" height="3" fill="#fff"/>
<rect x="313" y="345" width="96" height="10" fill="#000"/>
<rect x="314.2" y="345.2" width="93.8" height="8.8" fill="#fff"/>
<rect x="315.1" y="346" width="3.9" height="2.7" fill="#000"/>
<rect x="315.1" y="350.1" width="3.9" height="3.9" fill="#000"/>
<rect x="320.05" y="346" width="3.9" height="2.7" fill="#000"/>
<rect x="320.05" y="350.1" width="3.9" height="3.9" fill="#000"/>
<rect x="325" y="346" width="3.9" height="2.7" fill="#000"/>
<rect x="325" y="350.1" width="3.9" height="3.9" fill="#000"/>
<rect x="329.95" y="346" width="3.9" height="2.7" fill="#000"/>
<rect x="329.95" y="350.1" width="3.9" height="3.9" fill="#000"/>
<rect x="334.9" y="346" width="3.9" height="2.7" fill="#000"/>
<rect x="334.9" y="350.1" width="3.9" height="3.9" fill="#000"/>
<rect x="339.85" y="346" width="3.9" height="2.7" fill="#000"/>
<rect x="339.85" y="350.1" width="3.9" height="3.9" fill="#000"/>
<rect x="344.8" y="346" width="3.9" height="2.7" fill="#000"/>
<rect x="344.8" y="350.1" width="3.9" height="3.9" fill="#000"/>
<rect x="349.75" y="346" width="3.9" height="2.7" fill="#000"/>
<rect x="349.75" y="350.1" width="3.9" height="3.9" fill="#000"/>
<rect x="354.7" y="346" width="3.9" height="2.7" fill="#000"/>
<rect x="354.7" y="350.1" width="3.9" height="3.9" fill="#000"/>
<rect x="359.65" y="346" width="3.9" height="2.7" fill="#000"/>
<rect x="359.65" y="350.1" width="3.9" height="3.9" fill="#000"/>
<rect x="364.6" y="346" width="3.9" height="2.7" fill="#000"/>
<rect x="364.6" y="350.1" width="3.9" height="3.9" fill="#000"/>
<rect x="369.55" y="346" width="3.9" height="2.7" fill="#000"/>
<rect x="369.55" y="350.1" width="3.9" height="3.9" fill="#000"/>
<rect x="374.5" y="346" width="3.9" height="2.7" fill="#000"/>
<rect x="374.5" y="350.1" width="3.9" height="3.9" fill="#000"/>
<rect x="379.45" y="346" width="3.9" height="2.7" fill="#000"/>
<rect x="379.45" y="350.1" width="3.9" height="3.9" fill="#000"/>
<rect x="384.4" y="346" width="3.9" height="2.7" fill="#000"/>
<rect x="384.4" y="350.1" width="3.9" height="3.9" fill="#000"/>
<rect x="389.35" y="346" width="3.9" height="2.7" fill="#000"/>
<rect x="389.35" y="350.1" width="3.9" height="3.9" fill="#000"/>
<rect x="394.3" y="346" width="3.9" height="2.7" fill="#000"/>
<rect x="394.3" y="350.1" width="3.9" height="3.9" fill="#000"/>
<rect x="399.25" y="346" width="3.9" height="2.7" fill="#000"/>
<rect x="399.25" y="350.1" width="3.9" height="3.9" fill="#000"/>
<rect x="404.2" y="346" width="3.8" height="2.7" fill="#000"/>
<rect x="404.2" y="350.1" width="3.8" height="3.9" fill="#000"/>
<rect x="334.5" y="346" width="13.5" height="2.7" fill="#000"/>
<rect x="374.5" y="346" width="13.5" height="2.7" fill="#000"/>
<rect x="262" y="525" width="82" height="19.5" fill="#000"/>
<rect x="263" y="526" width="80" height="17.5" fill="#fff"/>
<rect x="266.3" y="528.6" width="6.3" height="6.1" fill="#000"/>
<rect x="267.3" y="529.6" width="4.3" height="4.1" fill="#fff"/>
<rect x="266.3" y="536.2" width="6.3" height="5.8" fill="#000"/>
<rect x="267.3" y="537.2" width="4.3" height="3.8" fill="#fff"/>
<rect x="273.57" y="528.6" width="6.3" height="6.1" fill="#000"/>
<rect x="274.57" y="529.6" width="4.3" height="4.1" fill="#fff"/>
<rect x="273.57" y="536.2" width="6.3" height="5.8" fill="#000"/>
<rect x="274.57" y="537.2" width="4.3" height="3.8" fill="#fff"/>
<rect x="280.84" y="528.6" width="6.3" height="6.1" fill="#000"/>
<rect x="281.84" y="529.6" width="4.3" height="4.1" fill="#fff"/>
<rect x="280.84" y="536.2" width="6.3" height="5.8" fill="#000"/>
<rect x="281.84" y="537.2" width="4.3" height="3.8" fill="#fff"/>
<rect x="288.11" y="528.6" width="6.3" height="6.1" fill="#000"/>
<rect x="289.11" y="529.6" width="4.3" height="4.1" fill="#fff"/>
<rect x="288.11" y="536.2" width="6.3" height="5.8" fill="#000"/>
<rect x="289.11" y="537.2" width="4.3" height="3.8" fill="#fff"/>
<rect x="295.38" y="528.6" width="6.3" height="6.1" fill="#000"/>
<rect x="296.38" y="529.6" width="4.3" height="4.1" fill="#fff"/>
<rect x="295.38" y="536.2" width="6.3" height="5.8" fill="#000"/>
<rect x="296.38" y="537.2" width="4.3" height="3.8" fill="#fff"/>
<rect x="302.65" y="528.6" width="6.3" height="6.1" fill="#000"/>
<rect x="303.65" y="529.6" width="4.3" height="4.1" fill="#fff"/>
<rect x="302.65" y="536.2" width="6.3" height="5.8" fill="#000"/>
<rect x="303.65" y="537.2" width="4.3" height="3.8" fill="#fff"/>
<rect x="309.92" y="528.6" width="6.3" height="6.1" fill="#000"/>
<rect x="310.92" y="529.6" width="4.3" height="4.1" fill="#fff"/>
<rect x="309.92" y="536.2" width="6.3" height="5.8" fill="#000"/>
<rect x="310.92" y="537.2" width="4.3" height="3.8" fill="#fff"/>
<rect x="317.19" y="528.6" width="6.3" height="6.1" fill="#000"/>
<rect x="318.19" y="529.6" width="4.3" height="4.1" fill="#fff"/>
<rect x="317.19" y="536.2" width="6.3" height="5.8" fill="#000"/>
<rect x="318.19" y="537.2" width="4.3" height="3.8" fill="#fff"/>
<rect x="324.46" y="528.6" width="6.3" height="6.1" fill="#000"/>
<rect x="325.46" y="529.6" width="4.3" height="4.1" fill="#fff"/>
<rect x="324.46" y="536.2" width="6.3" height="5.8" fill="#000"/>
<rect x="325.46" y="537.2" width="4.3" height="3.8" fill="#fff"/>
<rect x="331.73" y="528.6" width="6.3" height="6.1" fill="#000"/>
<rect x="332.73" y="529.6" width="4.3" height="4.1" fill="#fff"/>
<rect x="331.73" y="536.2" width="6.3" height="5.8" fill="#000"/>
<rect x="332.73" y="537.2" width="4.3" height="3.8" fill="#fff"/>
<rect x="457" y="524" width="90" height="20" fill="#000"/>
<rect x="458" y="525" width="88" height="18" fill="#fff"/>
<rect x="458.8" y="527" width="5.9" height="3" fill="#000"/>
<rect x="460" y="528" width="3.7" height="1" fill="#fff"/>
<rect x="466.16" y="527" width="5.9" height="3" fill="#000"/>
<rect x="467.36" y="528" width="3.7" height="1" fill="#fff"/>
<rect x="473.52" y="527" width="5.9" height="3" fill="#000"/>
<rect x="474.72" y="528" width="3.7" height="1" fill="#fff"/>
<rect x="480.88" y="527" width="5.9" height="3" fill="#000"/>
<rect x="482.08" y="528" width="3.7" height="1" fill="#fff"/>
<rect x="488.24" y="527" width="5.9" height="3" fill="#000"/>
<rect x="489.44" y="528" width="3.7" height="1" fill="#fff"/>
<rect x="495.6" y="527" width="5.9" height="3" fill="#000"/>
<rect x="496.8" y="528" width="3.7" height="1" fill="#fff"/>
<rect x="502.96" y="527" width="5.9" height="3" fill="#000"/>
<rect x="504.16" y="528" width="3.7" height="1" fill="#fff"/>
<rect x="510.32" y="527" width="5.9" height="3" fill="#000"/>
<rect x="511.52" y="528" width="3.7" height="1" fill="#fff"/>
<rect x="517.68" y="527" width="5.9" height="3" fill="#000"/>
<rect x="518.88" y="528" width="3.7" height="1" fill="#fff"/>
<rect x="525.04" y="527" width="5.9" height="3" fill="#000"/>
<rect x="526.24" y="528" width="3.7" height="1" fill="#fff"/>
<rect x="532.4" y="527" width="5.9" height="3" fill="#000"/>
<rect x="533.6" y="528" width="3.7" height="1" fill="#fff"/>
<rect x="539.76" y="527" width="5.9" height="3" fill="#000"/>
<rect x="540.96" y="528" width="3.7" height="1" fill="#fff"/>
<rect x="458" y="532.3" width="88" height="2.5" fill="#000"/>
<rect x="461.4" y="535" width="6.1" height="6.2" fill="#000"/>
<rect x="462.7" y="536" width="3.9" height="4.2" fill="#fff"/>
<rect x="469.22" y="535" width="6.1" height="6.2" fill="#000"/>
<rect x="470.52" y="536" width="3.9" height="4.2" fill="#fff"/>
<rect x="477.04" y="535" width="6.1" height="6.2" fill="#000"/>
<rect x="478.34" y="536" width="3.9" height="4.2" fill="#fff"/>
<rect x="484.86" y="535" width="6.1" height="6.2" fill="#000"/>
<rect x="486.16" y="536" width="3.9" height="4.2" fill="#fff"/>
<rect x="492.68" y="535" width="6.1" height="6.2" fill="#000"/>
<rect x="493.98" y="536" width="3.9" height="4.2" fill="#fff"/>
<rect x="500.5" y="535" width="6.1" height="6.2" fill="#000"/>
<rect x="501.8" y="536" width="3.9" height="4.2" fill="#fff"/>
<rect x="508.32" y="535" width="6.1" height="6.2" fill="#000"/>
<rect x="509.62" y="536" width="3.9" height="4.2" fill="#fff"/>
<rect x="516.14" y="535" width="6.1" height="6.2" fill="#000"/>
<rect x="517.44" y="536" width="3.9" height="4.2" fill="#fff"/>
<rect x="523.96" y="535" width="6.1" height="6.2" fill="#000"/>
<rect x="525.26" y="536" width="3.9" height="4.2" fill="#fff"/>
<rect x="531.78" y="535" width="6.1" height="6.2" fill="#000"/>
<rect x="533.08" y="536" width="3.9" height="4.2" fill="#fff"/>
<rect x="539.6" y="535" width="6.1" height="6.2" fill="#000"/>
<rect x="540.9" y="536" width="3.9" height="4.2" fill="#fff"/>
<rect x="503" y="317.5" width="81.3" height="10.5" fill="#000"/>
<rect x="504.5" y="321.7" width="78.5" height="1.1" fill="#fff"/>
<rect x="505.2" y="318.8" width="1" height="8" fill="#fff"/>
<rect x="509.7" y="318.8" width="1" height="8" fill="#fff"/>
<rect x="514.2" y="318.8" width="1" height="8" fill="#fff"/>
<rect x="518.7" y="318.8" width="1" height="8" fill="#fff"/>
<rect x="523.2" y="318.8" width="1" height="8" fill="#fff"/>
<rect x="527.7" y="318.8" width="1" height="8" fill="#fff"/>
<rect x="532.2" y="318.8" width="1" height="8" fill="#fff"/>
<rect x="536.7" y="318.8" width="1" height="8" fill="#fff"/>
<rect x="541.2" y="318.8" width="1" height="8" fill="#fff"/>
<rect x="545.7" y="318.8" width="1" height="8" fill="#fff"/>
<rect x="550.2" y="318.8" width="1" height="8" fill="#fff"/>
<rect x="554.7" y="318.8" width="1" height="8" fill="#fff"/>
<rect x="559.2" y="318.8" width="1" height="8" fill="#fff"/>
<rect x="563.7" y="318.8" width="1" height="8" fill="#fff"/>
<rect x="568.2" y="318.8" width="1" height="8" fill="#fff"/>
<rect x="572.7" y="318.8" width="1" height="8" fill="#fff"/>
<rect x="577.2" y="318.8" width="1" height="8" fill="#fff"/>
<rect x="581.7" y="318.8" width="1" height="8" fill="#fff"/>
<rect x="505.7" y="324" width="2" height="2.3" fill="#fff"/>
<rect x="506.3" y="324.6" width="0.8" height="1" fill="#000"/>
<rect x="597" y="281.2" width="28" height="35.5" fill="#000"/>
<rect x="620" y="273.3" width="5" height="53.7" fill="#000"/>
<rect x="618" y="275" width="3" height="6.5" fill="#000"/>
<rect x="625" y="282.4" width="13" height="32.4" fill="#000" rx="2"/>
<rect x="625" y="283.4" width="12" height="30.4" fill="#fff" rx="1.5"/>
<rect x="625" y="275.2" width="7.7" height="5.2" fill="#000"/>
<rect x="625.5" y="276.2" width="6.2" height="3.2" fill="#fff"/>
<rect x="625" y="319.2" width="7.7" height="4.5" fill="#000"/>
<rect x="625.5" y="320.2" width="6.2" height="2.5" fill="#fff"/>
<rect x="615.5" y="330" width="14.8" height="5" fill="#000"/>
<rect x="616.5" y="331" width="12.8" height="3" fill="#fff"/>
<rect x="615.5" y="411" width="14.8" height="5" fill="#000"/>
<rect x="616.5" y="412" width="12.8" height="3" fill="#fff"/>
<rect x="600.2" y="337.2" width="21.4" height="72.3" fill="#000"/>
<rect x="619.6" y="328" width="4.9" height="90" fill="#000"/>
<rect x="621.6" y="329" width="1" height="88" fill="#fff"/>
<rect x="624" y="337.2" width="11.2" height="69.8" fill="#000" rx="2"/>
<rect x="624.6" y="338.2" width="9.6" height="67.8" fill="#fff" rx="1.5"/>
<rect x="593" y="420" width="32.3" height="32.7" fill="#000"/>
<rect x="594" y="421" width="25.5" height="30.7" fill="#fff"/>
<polygon points="600.00,461.50 602.00,459.50 618.50,459.50 618.50,456.50 620.50,456.50 620.50,453.80 625.00,453.80 625.00,498.50 622.80,498.50 622.80,494.50 619.50,494.50 619.50,489.60 602.00,489.60 600.00,487.60" fill="#000"/>
<rect x="597.5" y="463" width="2.5" height="22" fill="#000"/>
<rect x="595" y="466.6" width="4.5" height="6" fill="#000"/>
<rect x="596" y="467.6" width="3.5" height="4" fill="#fff"/>
<rect x="595" y="475.6" width="4.5" height="6.8" fill="#000"/>
<rect x="596" y="476.6" width="3.5" height="4.8" fill="#fff"/>
<rect x="598" y="505" width="27" height="35.5" fill="#000"/>
<rect x="620.2" y="497" width="4.8" height="54" fill="#000"/>
<rect x="625" y="506.4" width="13.6" height="33.2" fill="#000" rx="2"/>
<rect x="625" y="507.4" width="12.6" height="31.2" fill="#fff" rx="1.5"/>
<rect x="618.2" y="499.6" width="14.5" height="4.6" fill="#000"/>
<rect x="619.2" y="500.6" width="12.5" height="2.6" fill="#fff"/>
<rect x="620.8" y="499.6" width="4.2" height="4.6" fill="#000"/>
<rect x="618.2" y="543" width="14.5" height="4.7" fill="#000"/>
<rect x="619.2" y="544" width="12.5" height="2.7" fill="#fff"/>
<rect x="620.8" y="543" width="4.2" height="4.7" fill="#000"/>
<rect x="623" y="1" width="2" height="552" fill="#000"/>
<rect x="604.7" y="292.5" width="25.7" height="13.9" fill="#000" rx="3.5"/>
<rect x="605.7" y="293.5" width="23.3" height="11.5" fill="#fff" rx="2.6"/>
<text x="607.5" y="303.1" font-size="11" fill="#000" textLength="19.5" lengthAdjust="spacingAndGlyphs">CN1</text>
<rect x="605" y="365" width="26" height="14.4" fill="#000" rx="3.5"/>
<rect x="606" y="366" width="23.6" height="12" fill="#fff" rx="2.6"/>
<text x="608" y="376.1" font-size="11" fill="#000" textLength="20" lengthAdjust="spacingAndGlyphs">CN2</text>
<polygon points="597.40,428.50 619.50,428.50 621.00,430.00 621.00,442.40 619.50,443.90 597.40,443.90 595.90,442.40 595.90,430.00" fill="#000"/>
<rect x="597.9" y="430.5" width="20.7" height="10.8" fill="#fff" rx="0.8"/>
<text x="599" y="440.3" font-size="11" fill="#000" textLength="19.5" lengthAdjust="spacingAndGlyphs">CN3</text>
<rect x="606" y="516.2" width="25.2" height="14.6" fill="#000" rx="3.5"/>
<rect x="607" y="517.2" width="22.8" height="12.2" fill="#fff" rx="2.6"/>
<text x="609" y="527.5" font-size="11" fill="#000" textLength="20" lengthAdjust="spacingAndGlyphs">CN4</text>
<rect x="81.9" y="53" width="5.2" height="24.8" fill="#000"/>
<rect x="83.1" y="58" width="2.8" height="1" fill="#fff"/>
<rect x="83.1" y="62" width="2.8" height="1" fill="#fff"/>
<rect x="83.1" y="67" width="2.8" height="1" fill="#fff"/>
<rect x="83.1" y="72" width="2.8" height="1" fill="#fff"/>
<rect x="83.1" y="76" width="2.8" height="1" fill="#fff"/>
<rect x="83.5" y="55" width="2" height="2" fill="#fff"/>
<rect x="88.3" y="53" width="5.8" height="20.6" fill="#000"/>
<rect x="89.5" y="58" width="3.4" height="1" fill="#fff"/>
<rect x="89.5" y="62" width="3.4" height="1" fill="#fff"/>
<rect x="89.5" y="67" width="3.4" height="1" fill="#fff"/>
<rect x="89.5" y="72" width="3.4" height="1" fill="#fff"/>
<rect x="89.9" y="55" width="2" height="2" fill="#fff"/>
<rect x="95.1" y="53" width="5.9" height="20.6" fill="#000"/>
<rect x="96.3" y="58" width="3.5" height="1" fill="#fff"/>
<rect x="96.3" y="62" width="3.5" height="1" fill="#fff"/>
<rect x="96.3" y="67" width="3.5" height="1" fill="#fff"/>
<rect x="96.3" y="72" width="3.5" height="1" fill="#fff"/>
<rect x="96.7" y="55" width="2" height="2" fill="#fff"/>
<rect x="102.3" y="53" width="5.7" height="14.9" fill="#000"/>
<rect x="105.7" y="54.7" width="1.3" height="14.8" fill="#fff"/>
<rect x="103.6" y="54.7" width="1.4" height="1.6" fill="#fff"/>
<rect x="109" y="53" width="5.9" height="10.5" fill="#000"/>
<rect x="110.2" y="58" width="3.5" height="1" fill="#fff"/>
<rect x="110.2" y="61.5" width="3.5" height="1" fill="#fff"/>
<rect x="110.6" y="55" width="2" height="2" fill="#fff"/>
<rect x="115.5" y="53" width="5.3" height="10.5" fill="#000"/>
<rect x="116.7" y="58" width="2.9" height="1" fill="#fff"/>
<rect x="116.7" y="61.5" width="2.9" height="1" fill="#fff"/>
<rect x="117.1" y="55" width="2" height="2" fill="#fff"/>
<rect x="76" y="98" width="6" height="24.7" fill="#000"/>
<rect x="77" y="99" width="4" height="1" fill="#fff"/>
<rect x="77" y="105" width="4" height="1" fill="#fff"/>
<rect x="77" y="108" width="4" height="1" fill="#fff"/>
<rect x="77" y="113" width="4" height="1" fill="#fff"/>
<rect x="77" y="117" width="4" height="1" fill="#fff"/>
<rect x="77.8" y="100.9" width="2.4" height="2.4" fill="#fff"/>
<rect x="78.6" y="101.7" width="0.8" height="0.8" fill="#000"/>
<rect x="76" y="124" width="6" height="10.6" fill="#000"/>
<rect x="77" y="125" width="4" height="1" fill="#fff"/>
<rect x="77" y="129" width="4" height="1" fill="#fff"/>
<rect x="96.2" y="178" width="15" height="66.6" fill="#000"/>
<rect x="99.4" y="179.6" width="1" height="3.8" fill="#fff"/>
<rect x="104.5" y="179.6" width="1.1" height="3.8" fill="#fff"/>
<rect x="107" y="179.9" width="2" height="2" fill="#fff"/>
<rect x="99.4" y="185.65" width="1" height="3.8" fill="#fff"/>
<rect x="104.5" y="185.65" width="1.1" height="3.8" fill="#fff"/>
<rect x="107" y="185.95" width="2" height="2" fill="#fff"/>
<rect x="99.4" y="191.7" width="1" height="3.8" fill="#fff"/>
<rect x="104.5" y="191.7" width="1.1" height="3.8" fill="#fff"/>
<rect x="107" y="192" width="2" height="2" fill="#fff"/>
<rect x="99.4" y="197.75" width="1" height="3.8" fill="#fff"/>
<rect x="104.5" y="197.75" width="1.1" height="3.8" fill="#fff"/>
<rect x="107" y="198.05" width="2" height="2" fill="#fff"/>
<rect x="99.4" y="203.8" width="1" height="3.8" fill="#fff"/>
<rect x="104.5" y="203.8" width="1.1" height="3.8" fill="#fff"/>
<rect x="107" y="204.1" width="2" height="2" fill="#fff"/>
<rect x="99.4" y="209.85" width="1" height="3.8" fill="#fff"/>
<rect x="104.5" y="209.85" width="1.1" height="3.8" fill="#fff"/>
<rect x="107" y="210.15" width="2" height="2" fill="#fff"/>
<rect x="99.4" y="215.9" width="1" height="3.8" fill="#fff"/>
<rect x="104.5" y="215.9" width="1.1" height="3.8" fill="#fff"/>
<rect x="107" y="216.2" width="2" height="2" fill="#fff"/>
<rect x="99.4" y="221.95" width="1" height="3.8" fill="#fff"/>
<rect x="104.5" y="221.95" width="1.1" height="3.8" fill="#fff"/>
<rect x="107" y="222.25" width="2" height="2" fill="#fff"/>
<rect x="99.4" y="228" width="1" height="3.8" fill="#fff"/>
<rect x="104.5" y="228" width="1.1" height="3.8" fill="#fff"/>
<rect x="107" y="228.3" width="2" height="2" fill="#fff"/>
<rect x="99.4" y="234.05" width="1" height="3.8" fill="#fff"/>
<rect x="104.5" y="234.05" width="1.1" height="3.8" fill="#fff"/>
<rect x="107" y="234.35" width="2" height="2" fill="#fff"/>
<rect x="99.4" y="240.1" width="1" height="3.8" fill="#fff"/>
<rect x="104.5" y="240.1" width="1.1" height="3.8" fill="#fff"/>
<rect x="107" y="240.4" width="2" height="2" fill="#fff"/>
<rect x="96.2" y="196" width="15" height="1" fill="#fff"/>
<rect x="96.2" y="202" width="15" height="1" fill="#fff"/>
<rect x="96.2" y="208" width="15" height="1" fill="#fff"/>
<rect x="96.2" y="214" width="15" height="1" fill="#fff"/>
<rect x="96.2" y="219" width="15" height="1" fill="#fff"/>
<rect x="577" y="346" width="16" height="4.6" fill="#000"/>
<rect x="581.9" y="346.9" width="1.1" height="3.1" fill="#fff"/>
<rect x="587.9" y="347" width="2" height="1.9" fill="#fff"/>
<rect x="591" y="346.9" width="1" height="3.1" fill="#fff"/>
<rect x="577" y="353.1" width="16" height="4.6" fill="#000"/>
<rect x="581.9" y="354" width="1.1" height="3.1" fill="#fff"/>
<rect x="587.9" y="354.1" width="2" height="1.9" fill="#fff"/>
<rect x="591" y="354" width="1" height="3.1" fill="#fff"/>
<rect x="320.4" y="270" width="5.7" height="15.4" fill="#000"/>
<rect x="322" y="272.2" width="2.8" height="2.6" fill="#fff"/>
<rect x="322.8" y="273" width="1.2" height="1" fill="#000"/>
<rect x="321.4" y="279.4" width="3.8" height="1.1" fill="#fff"/>
<rect x="327.2" y="270" width="5.7" height="15.4" fill="#000"/>
<rect x="328.8" y="272.2" width="2.8" height="2.6" fill="#fff"/>
<rect x="329.6" y="273" width="1.2" height="1" fill="#000"/>
<rect x="328.2" y="279.4" width="3.8" height="1.1" fill="#fff"/>
<polygon points="120.60,57.50 126.20,55.80 126.20,61.20 120.60,59.50" fill="#000" shape-rendering="geometricPrecision"/>
<rect x="126.2" y="57.8" width="7.8" height="1.4" fill="#fff"/>
<polygon points="67.50,32.00 85.50,32.00 87.00,33.50 87.00,45.50 85.50,47.00 67.50,47.00 66.00,45.50 66.00,33.50" fill="#000"/>
<rect x="69" y="34" width="16" height="11" fill="#fff" rx="0.8"/>
<text x="70.3" y="43.4" font-size="11" fill="#000" textLength="11.2" lengthAdjust="spacingAndGlyphs">J5</text>
<polygon points="90.50,25.00 108.40,25.00 109.90,26.50 109.90,38.70 108.40,40.20 90.50,40.20 89.00,38.70 89.00,26.50" fill="#000"/>
<rect x="91" y="27" width="16.5" height="10.6" fill="#fff" rx="0.8"/>
<text x="93.1" y="36.2" font-size="11" fill="#000" textLength="11.2" lengthAdjust="spacingAndGlyphs">J4</text>
<polygon points="117.60,32.20 132.70,32.20 134.20,33.70 134.20,45.00 132.70,46.50 117.60,46.50 116.10,45.00 116.10,33.70" fill="#000"/>
<rect x="118" y="34.1" width="16" height="10.7" fill="#fff" rx="0.8"/>
<text x="120.1" y="43.8" font-size="11" fill="#000" textLength="11" lengthAdjust="spacingAndGlyphs">J2</text>
<polygon points="51.50,56.10 69.20,56.10 70.70,57.60 70.70,69.50 69.20,71.00 51.50,71.00 50.00,69.50 50.00,57.60" fill="#000"/>
<rect x="52" y="58.1" width="16.3" height="10.3" fill="#fff" rx="0.8"/>
<text x="54.1" y="66.7" font-size="11" fill="#000" textLength="10.3" lengthAdjust="spacingAndGlyphs">J6</text>
<polygon points="114.50,70.40 129.70,70.40 131.20,71.90 131.20,83.30 129.70,84.80 114.50,84.80 113.00,83.30 113.00,71.90" fill="#000"/>
<rect x="115" y="72.1" width="15.9" height="10.7" fill="#fff" rx="0.8"/>
<text x="116.8" y="80.9" font-size="11" fill="#000" textLength="10.5" lengthAdjust="spacingAndGlyphs">J3</text>
<rect x="132.3" y="52.4" width="20.3" height="12.4" fill="#000" rx="2"/>
<rect x="133.7" y="53.4" width="17.3" height="9.9" fill="#fff" rx="1.5"/>
<text x="135.5" y="62.6" font-size="11" fill="#000" textLength="9.5" lengthAdjust="spacingAndGlyphs">J1</text>
<polygon points="45.10,102.60 63.80,102.60 65.30,104.10 65.30,116.60 63.80,118.10 45.10,118.10 43.60,116.60 43.60,104.10" fill="#000"/>
<rect x="45.6" y="104.6" width="17.3" height="10.9" fill="#fff" rx="0.8"/>
<text x="48" y="114" font-size="11" fill="#000" textLength="10.9" lengthAdjust="spacingAndGlyphs">J7</text>
<polygon points="45.10,121.70 63.80,121.70 65.30,123.20 65.30,135.60 63.80,137.10 45.10,137.10 43.60,135.60 43.60,123.20" fill="#000"/>
<rect x="45.6" y="123.7" width="17.3" height="10.8" fill="#fff" rx="0.8"/>
<text x="48.9" y="133.8" font-size="11" fill="#000" textLength="10.6" lengthAdjust="spacingAndGlyphs">J8</text>
<path d="M115.5,205 L123.2,211.8 M115.5,218 L123.2,212.2" stroke="#000" stroke-width="1.4" fill="none" shape-rendering="auto"/>
<polygon points="87.90,150.30 119.20,150.30 120.70,151.80 120.70,162.80 119.20,164.30 87.90,164.30 86.40,162.80 86.40,151.80" fill="#000"/>
<rect x="88.4" y="152.3" width="30.9" height="9.8" fill="#fff" rx="0.8"/>
<text x="89.4" y="161" font-size="11" fill="#000" textLength="29.4" lengthAdjust="spacingAndGlyphs">PSWD</text>
<polygon points="119.40,162.80 156.30,162.80 157.80,164.30 157.80,176.30 156.30,177.80 119.40,177.80 117.90,176.30 117.90,164.30" fill="#000"/>
<rect x="119.5" y="165.4" width="36.2" height="10.1" fill="#fff" rx="0.8"/>
<text x="120.2" y="174.7" font-size="11" fill="#000" textLength="33.4" lengthAdjust="spacingAndGlyphs">FLASH</text>
<polygon points="58.00,173.00 88.20,173.00 89.70,174.50 89.70,186.20 88.20,187.70 58.00,187.70 56.50,186.20 56.50,174.50" fill="#000"/>
<rect x="58.5" y="175" width="29.8" height="10.4" fill="#fff" rx="0.8"/>
<text x="59.3" y="183.8" font-size="11" fill="#000" textLength="29.1" lengthAdjust="spacingAndGlyphs">CMOS</text>
<polygon points="118.90,178.30 148.60,178.30 150.10,179.80 150.10,192.30 148.60,193.80 118.90,193.80 117.40,192.30 117.40,179.80" fill="#000"/>
<rect x="119.1" y="181.4" width="29.5" height="10.1" fill="#fff" rx="0.8"/>
<text x="119.5" y="190.6" font-size="11" fill="#000" textLength="29.4" lengthAdjust="spacingAndGlyphs">MONO</text>
<polygon points="124.10,196.80 160.50,196.80 162.00,198.30 162.00,210.30 160.50,211.80 124.10,211.80 122.60,210.30 122.60,198.30" fill="#000"/>
<rect x="124.4" y="199.2" width="35.2" height="9.8" fill="#fff" rx="0.8"/>
<text x="125.8" y="207.7" font-size="11" fill="#000" textLength="33.7" lengthAdjust="spacingAndGlyphs">HYBEN</text>
<polygon points="52.20,203.90 82.30,203.90 83.80,205.40 83.80,216.90 82.30,218.40 52.20,218.40 50.70,216.90 50.70,205.40" fill="#000"/>
<rect x="52.7" y="205.9" width="28.7" height="9.9" fill="#fff" rx="0.8"/>
<text x="54.9" y="214.9" font-size="11" fill="#000" textLength="24.3" lengthAdjust="spacingAndGlyphs">JSS4</text>
<polygon points="123.60,212.30 154.40,212.30 155.90,213.80 155.90,225.40 154.40,226.90 123.60,226.90 122.10,225.40 122.10,213.80" fill="#000"/>
<rect x="124" y="213.2" width="30" height="10.8" fill="#fff" rx="0.8"/>
<text x="124.9" y="222.3" font-size="11" fill="#000" textLength="25" lengthAdjust="spacingAndGlyphs">JSS3</text>
<polygon points="52.20,216.80 82.30,216.80 83.80,218.30 83.80,230.30 82.30,231.80 52.20,231.80 50.70,230.30 50.70,218.30" fill="#000"/>
<rect x="52.7" y="218.8" width="28.7" height="10.4" fill="#fff" rx="0.8"/>
<text x="54.9" y="228.2" font-size="11" fill="#000" textLength="24.3" lengthAdjust="spacingAndGlyphs">JSS2</text>
<polygon points="117.80,234.30 148.60,234.30 150.10,235.80 150.10,247.80 148.60,249.30 117.80,249.30 116.30,247.80 116.30,235.80" fill="#000"/>
<rect x="118.6" y="237.3" width="28.5" height="9.7" fill="#fff" rx="0.8"/>
<text x="120.8" y="246.4" font-size="11" fill="#000" textLength="22.7" lengthAdjust="spacingAndGlyphs">JSS1</text>
<polygon points="64.80,240.30 88.50,240.30 90.00,241.80 90.00,253.00 88.50,254.50 64.80,254.50 63.30,253.00 63.30,241.80" fill="#000"/>
<rect x="65.7" y="242.2" width="22.5" height="10.1" fill="#fff" rx="0.8"/>
<text x="68.3" y="250.9" font-size="11" fill="#000" textLength="17.3" lengthAdjust="spacingAndGlyphs">JS6</text>
<polygon points="90.80,258.30 114.80,258.30 116.30,259.80 116.30,271.10 114.80,272.60 90.80,272.60 89.30,271.10 89.30,259.80" fill="#000"/>
<rect x="91.3" y="260.3" width="22.8" height="10" fill="#fff" rx="0.8"/>
<text x="93.1" y="268.2" font-size="11" fill="#000" textLength="16.3" lengthAdjust="spacingAndGlyphs">JS5</text>
<polygon points="154.50,291.00 180.50,291.00 182.00,292.50 182.00,304.70 180.50,306.20 154.50,306.20 153.00,304.70 153.00,292.50" fill="#000"/>
<rect x="155" y="293" width="24.6" height="10.6" fill="#fff" rx="0.8"/>
<text x="157" y="302.7" font-size="11" fill="#000" textLength="20.8" lengthAdjust="spacingAndGlyphs">CN5</text>
<polygon points="196.40,305.30 222.20,305.30 223.70,306.80 223.70,318.40 222.20,319.90 196.40,319.90 194.90,318.40 194.90,306.80" fill="#000"/>
<rect x="196.9" y="307.3" width="24.4" height="10" fill="#fff" rx="0.8"/>
<text x="199.8" y="317" font-size="11" fill="#000" textLength="19.6" lengthAdjust="spacingAndGlyphs">CN6</text>
<polygon points="464.60,313.90 490.80,313.90 492.30,315.40 492.30,328.40 490.80,329.90 464.60,329.90 463.10,328.40 463.10,315.40" fill="#000"/>
<rect x="465.1" y="315.9" width="24.8" height="11.4" fill="#fff" rx="0.8"/>
<text x="465.8" y="324.9" font-size="11" fill="#000" textLength="20.5" lengthAdjust="spacingAndGlyphs">CN7</text>
<polygon points="269.50,334.10 295.60,334.10 297.10,335.60 297.10,348.30 295.60,349.80 269.50,349.80 268.00,348.30 268.00,335.60" fill="#000"/>
<rect x="270" y="336.6" width="25.1" height="11" fill="#fff" rx="0.8"/>
<text x="271.7" y="346" font-size="11" fill="#000" textLength="21.7" lengthAdjust="spacingAndGlyphs">VRM</text>
<polygon points="223.70,526.40 249.20,526.40 250.70,527.90 250.70,539.70 249.20,541.20 223.70,541.20 222.20,539.70 222.20,527.90" fill="#000"/>
<rect x="224.2" y="528.4" width="24.1" height="10.2" fill="#fff" rx="0.8"/>
<text x="226" y="538" font-size="11" fill="#000" textLength="18.8" lengthAdjust="spacingAndGlyphs">ATX</text>
<polygon points="539.70,339.90 565.70,339.90 567.20,341.40 567.20,353.20 565.70,354.70 539.70,354.70 538.20,353.20 538.20,341.40" fill="#000"/>
<rect x="540.2" y="341.9" width="24.6" height="10.2" fill="#fff" rx="0.8"/>
<text x="541.8" y="351" font-size="11" fill="#000" textLength="17.9" lengthAdjust="spacingAndGlyphs">JS2</text>
<polygon points="546.30,360.00 571.40,360.00 572.90,361.50 572.90,372.40 571.40,373.90 546.30,373.90 544.80,372.40 544.80,361.50" fill="#000"/>
<rect x="546.8" y="362" width="23.7" height="9.3" fill="#fff" rx="0.8"/>
<text x="549.7" y="370.4" font-size="11" fill="#000" textLength="16.6" lengthAdjust="spacingAndGlyphs">JS1</text>
<polygon points="281.30,269.80 307.80,269.80 309.30,271.30 309.30,284.70 307.80,286.20 281.30,286.20 279.80,284.70 279.80,271.30" fill="#000"/>
<rect x="281.8" y="271.8" width="25.1" height="11.8" fill="#fff" rx="0.8"/>
<text x="284" y="282" font-size="11" fill="#000" textLength="18" lengthAdjust="spacingAndGlyphs">JS4</text>
<polygon points="299.20,289.50 325.00,289.50 326.50,291.00 326.50,303.40 325.00,304.90 299.20,304.90 297.70,303.40 297.70,291.00" fill="#000"/>
<rect x="299.7" y="291.5" width="24.4" height="10.8" fill="#fff" rx="0.8"/>
<text x="302.8" y="300.8" font-size="11" fill="#000" textLength="18.6" lengthAdjust="spacingAndGlyphs">JS3</text>
<polygon points="84.44,46.56 88.47,49.60 91.93,53.07 93.07,51.93 89.60,48.47 86.56,44.44" fill="#000" shape-rendering="geometricPrecision"/>
<polygon points="96.50,40.02 97.85,46.01 97.90,53.01 99.90,52.99 99.85,45.99 101.10,39.98" fill="#000" shape-rendering="geometricPrecision"/>
<polygon points="98.13,37.21 98.33,44.20 99.33,44.20 99.43,37.20" fill="#fff" shape-rendering="geometricPrecision"/>
<polygon points="116.71,44.17 113.64,48.14 109.87,52.11 111.33,53.49 115.09,49.52 118.89,46.23" fill="#000" shape-rendering="geometricPrecision"/>
<polygon points="70.26,66.10 77.54,64.41 81.95,64.60 82.05,62.20 77.64,62.01 70.54,59.70" fill="#000" shape-rendering="geometricPrecision"/>
<polygon points="67.57,63.43 75.41,63.62 75.46,62.62 67.63,62.13" fill="#fff" shape-rendering="geometricPrecision"/>
<polygon points="116.08,70.95 112.23,67.72 108.72,64.10 107.28,65.50 110.80,69.11 113.92,73.05" fill="#000" shape-rendering="geometricPrecision"/>
<polygon points="64.50,113.50 69.50,111.80 76.50,111.80 76.50,108.80 69.50,108.80 64.50,107.10" fill="#000" shape-rendering="geometricPrecision"/>
<polygon points="61.70,110.95 68.00,110.80 68.00,109.80 61.70,109.65" fill="#fff" shape-rendering="geometricPrecision"/>
<polygon points="64.50,132.50 69.50,130.80 76.50,130.80 76.50,127.80 69.50,127.80 64.50,126.10" fill="#000" shape-rendering="geometricPrecision"/>
<polygon points="61.70,129.95 68.00,129.80 68.00,128.80 61.70,128.65" fill="#fff" shape-rendering="geometricPrecision"/>
<polygon points="101.00,163.76 102.63,172.77 102.55,178.28 105.05,178.32 105.13,172.81 107.00,163.84" fill="#000" shape-rendering="geometricPrecision"/>
<polygon points="103.39,160.99 103.41,170.09 104.41,170.10 104.69,161.01" fill="#fff" shape-rendering="geometricPrecision"/>
<polygon points="117.40,175.67 114.73,179.94 110.46,185.25 112.34,186.75 116.60,181.45 120.20,177.93" fill="#000" shape-rendering="geometricPrecision"/>
<polygon points="87.04,187.28 91.16,190.22 95.10,194.11 96.50,192.69 92.56,188.80 89.56,184.72" fill="#000" shape-rendering="geometricPrecision"/>
<polygon points="116.96,189.83 113.97,193.88 110.80,197.25 112.40,198.75 115.57,195.39 119.44,192.17" fill="#000" shape-rendering="geometricPrecision"/>
<polygon points="123.00,201.50 118.00,203.30 111.00,203.30 111.00,205.70 118.00,205.70 123.00,207.50" fill="#000" shape-rendering="geometricPrecision"/>
<polygon points="125.80,203.85 119.50,204.00 119.50,205.00 125.80,205.15" fill="#fff" shape-rendering="geometricPrecision"/>
<polygon points="82.82,214.00 87.81,212.26 96.51,212.20 96.49,209.20 87.79,209.26 82.78,207.60" fill="#000" shape-rendering="geometricPrecision"/>
<polygon points="80.00,211.47 86.30,211.27 86.30,210.27 80.00,210.17" fill="#fff" shape-rendering="geometricPrecision"/>
<polygon points="122.60,215.60 117.60,217.40 111.00,217.40 111.00,219.80 117.60,219.80 122.60,221.60" fill="#000" shape-rendering="geometricPrecision"/>
<polygon points="125.40,217.95 119.10,218.10 119.10,219.10 125.40,219.25" fill="#fff" shape-rendering="geometricPrecision"/>
<polygon points="83.10,227.99 87.92,225.82 96.64,224.99 96.36,222.01 87.64,222.83 82.50,221.61" fill="#000" shape-rendering="geometricPrecision"/>
<polygon points="80.07,225.71 86.33,224.97 86.24,223.97 79.95,224.42" fill="#fff" shape-rendering="geometricPrecision"/>
<polygon points="119.04,234.83 115.17,231.61 112.00,228.25 110.40,229.75 113.57,233.12 116.56,237.17" fill="#000" shape-rendering="geometricPrecision"/>
<polygon points="89.94,242.47 93.26,238.68 97.33,235.02 95.87,233.38 91.79,237.04 87.66,239.93" fill="#000" shape-rendering="geometricPrecision"/>
<polygon points="105.90,259.00 104.80,253.00 104.80,244.30 102.40,244.30 102.40,253.00 101.30,259.00" fill="#000" shape-rendering="geometricPrecision"/>
<polygon points="104.25,261.80 104.10,254.80 103.10,254.80 102.95,261.80" fill="#fff" shape-rendering="geometricPrecision"/>
<polygon points="153.50,295.80 148.50,297.50 141.00,297.50 141.00,300.50 148.50,300.50 153.50,302.20" fill="#000" shape-rendering="geometricPrecision"/>
<polygon points="156.30,298.35 150.00,298.50 150.00,299.50 156.30,299.65" fill="#fff" shape-rendering="geometricPrecision"/>
<polygon points="195.40,309.50 190.40,311.20 183.00,311.20 183.00,314.20 190.40,314.20 195.40,315.90" fill="#000" shape-rendering="geometricPrecision"/>
<polygon points="198.20,312.05 191.90,312.20 191.90,313.20 198.20,313.35" fill="#fff" shape-rendering="geometricPrecision"/>
<polygon points="491.74,324.70 496.77,323.09 502.97,323.20 503.03,320.20 496.83,320.09 491.86,318.30" fill="#000" shape-rendering="geometricPrecision"/>
<polygon points="488.99,322.10 495.29,322.06 495.31,321.06 489.01,320.80" fill="#fff" shape-rendering="geometricPrecision"/>
<polygon points="296.50,344.80 300.00,343.50 308.40,343.50 308.40,340.10 300.00,340.10 296.50,338.80" fill="#000" shape-rendering="geometricPrecision"/>
<polygon points="293.70,342.45 298.95,342.30 298.95,341.30 293.70,341.15" fill="#fff" shape-rendering="geometricPrecision"/>
<polygon points="250.05,537.50 257.58,535.78 262.22,535.70 262.18,533.30 257.54,533.38 249.95,531.90" fill="#000" shape-rendering="geometricPrecision"/>
<polygon points="247.21,535.40 255.30,535.11 255.29,534.11 247.19,534.10" fill="#fff" shape-rendering="geometricPrecision"/>
<polygon points="566.51,351.10 571.56,349.54 577.26,349.70 577.34,346.70 571.64,346.54 566.69,344.70" fill="#000" shape-rendering="geometricPrecision"/>
<polygon points="563.78,348.47 570.08,348.50 570.11,347.50 563.82,347.17" fill="#fff" shape-rendering="geometricPrecision"/>
<polygon points="572.16,361.75 575.41,357.90 578.75,354.81 577.25,353.19 573.92,356.29 569.84,359.25" fill="#000" shape-rendering="geometricPrecision"/>
<polygon points="308.40,280.90 312.40,279.50 320.50,279.50 320.50,276.30 312.40,276.30 308.40,274.90" fill="#000" shape-rendering="geometricPrecision"/>
<polygon points="305.60,278.55 311.20,278.40 311.20,277.40 305.60,277.25" fill="#fff" shape-rendering="geometricPrecision"/>
<polygon points="326.22,292.32 329.53,288.53 332.15,286.12 330.45,284.28 327.83,286.69 323.78,289.68" fill="#000" shape-rendering="geometricPrecision"/>
</svg>
</body></html>
